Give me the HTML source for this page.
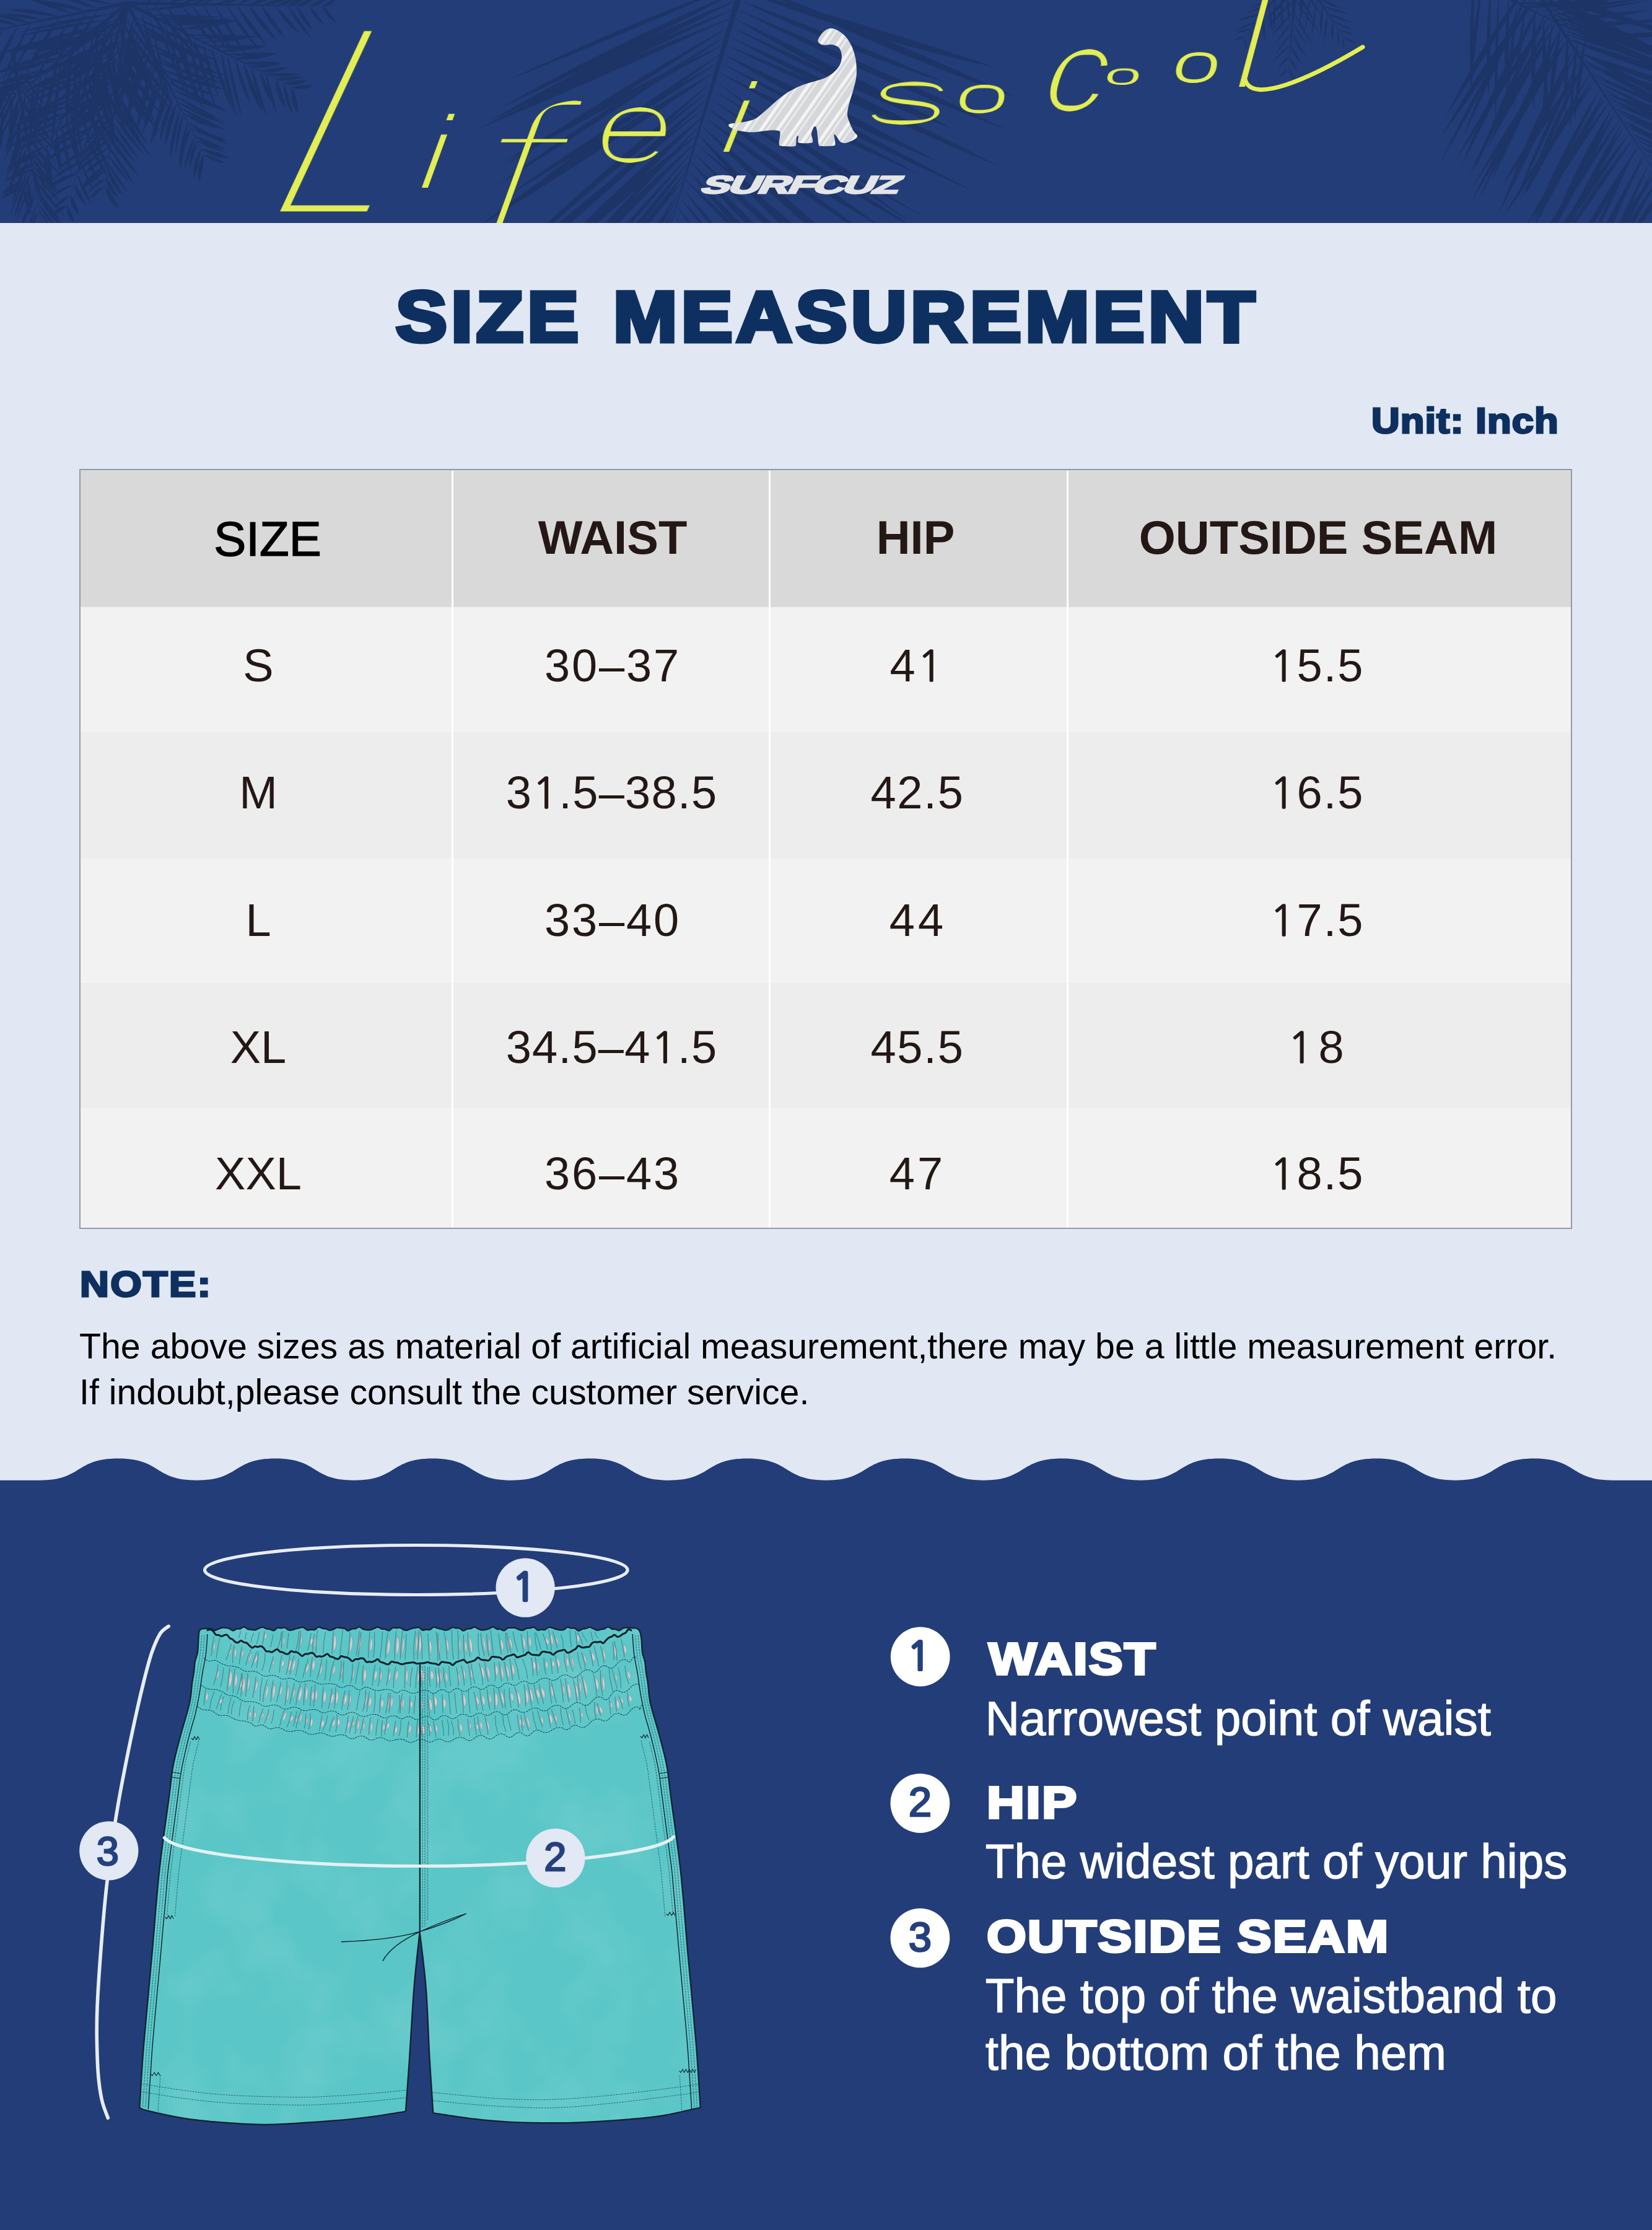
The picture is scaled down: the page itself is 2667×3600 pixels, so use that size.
<!DOCTYPE html>
<html lang="en">
<head>
<meta charset="utf-8">
<title>Size Measurement</title>
<style>
*{margin:0;padding:0;box-sizing:border-box;}
html,body{width:2667px;height:3600px;overflow:hidden;}
body{position:relative;background:#e1e8f3;font-family:"Liberation Sans",sans-serif;}
.abs{position:absolute;white-space:nowrap;line-height:1;}
#hdr{position:absolute;left:0;top:0;width:2667px;height:360px;background:#233d78;overflow:hidden;}
#hdrsvg{position:absolute;left:0;top:0;width:2667px;height:360px;}
#brand{left:1125px;top:278px;font-size:40px;font-weight:bold;color:#e4e5e7;-webkit-text-stroke:2.5px #e4e5e7;transform-origin:0 100%;transform:skewX(-28deg) scaleX(1.755);letter-spacing:-1.5px;}
#title{left:639px;top:454px;font-size:115px;font-weight:bold;color:#0e3060;transform-origin:0 0;-webkit-text-stroke:7px #0e3060;letter-spacing:6px;word-spacing:8px;transform:scaleX(1.078);}
#unit{left:2214px;top:651px;font-size:57px;font-weight:bold;color:#0e3060;transform-origin:0 0;-webkit-text-stroke:3px #0e3060;letter-spacing:1px;transform:scaleX(1.11);}
#tbl{position:absolute;left:128px;top:757px;width:2410px;height:1227px;border:2px solid #949aa1;background:#f2f2f2;}
.row{position:absolute;left:130px;width:2406px;}
.vsep{position:absolute;top:760px;width:3px;height:1222px;background:#fff;}
.th{font-size:76px;font-weight:bold;color:#231815;transform:translateX(-50%);}
.td{font-size:74px;color:#231815;transform:translateX(-50%);}
.o{font-family:"NanumGothic","Liberation Sans",sans-serif;font-size:0.935em;-webkit-text-stroke:1.3px #231815;}
#note{left:129px;top:2045px;font-size:57px;font-weight:bold;color:#0e3060;-webkit-text-stroke:3px #0e3060;transform-origin:0 0;letter-spacing:2px;transform:scaleX(1.14);}
.ntxt{left:128px;font-size:57.3px;color:#000;}
#btm{position:absolute;left:0;top:2350px;width:2667px;height:1250px;}
.lh{font-size:73px;font-weight:bold;color:#fff;-webkit-text-stroke:4px #fff;transform-origin:0 0;letter-spacing:2px;transform:scaleX(1.14);}
.lt{font-size:76.5px;color:#fff;-webkit-text-stroke:1.2px #fff;transform-origin:0 85%;transform:scaleY(1.012);}
</style>
</head>
<body>
<div id="hdr"><svg id="hdrsvg" viewBox="0 0 2667 360"><defs><filter id="e0" x="-5%" y="-5%" width="110%" height="110%"><feMorphology operator="erode" radius="14.3 12.3"/></filter><filter id="e1" x="-5%" y="-5%" width="110%" height="110%"><feMorphology operator="erode" radius="4.5 1.5"/></filter><filter id="e2" x="-5%" y="-5%" width="110%" height="110%"><feMorphology operator="erode" radius="11.3 7.1"/></filter><filter id="e3" x="-5%" y="-5%" width="110%" height="110%"><feMorphology operator="erode" radius="4.1 1.6"/></filter><filter id="e4" x="-5%" y="-5%" width="110%" height="110%"><feMorphology operator="erode" radius="4.4 1.2"/></filter><filter id="e5" x="-5%" y="-5%" width="110%" height="110%"><feMorphology operator="erode" radius="0.5 0.3"/></filter><filter id="e6" x="-5%" y="-5%" width="110%" height="110%"><feMorphology operator="erode" radius="3.8 0.6"/></filter><filter id="e7" x="-5%" y="-5%" width="110%" height="110%"><feMorphology operator="erode" radius="1.5 0.3"/></filter><filter id="e8" x="-5%" y="-5%" width="110%" height="110%"><feMorphology operator="erode" radius="4.0 2.3"/></filter><filter id="e9" x="-5%" y="-5%" width="110%" height="110%"><feMorphology operator="erode" radius="1.3 0.3"/></filter><filter id="e10" x="-5%" y="-5%" width="110%" height="110%"><feMorphology operator="erode" radius="4.0 2.6"/></filter><pattern id="stp" width="22" height="22" patternUnits="userSpaceOnUse" patternTransform="rotate(35)"><rect width="22" height="22" fill="#d5d7da"/><rect x="2" width="5" height="22" fill="#f4f4f4"/><rect x="11" width="3" height="22" fill="#ebebeb"/></pattern></defs>
<path d="M203.1 2.7L-40 210L206.9 7.3ZM185.6 21.2Q106.1 28.7 29.9 52.6Q108.3 39.4 185.6 21.2ZM185.6 21.2Q168.7 108 166 196.5Q177.9 109.1 185.6 21.2ZM173.5 31.4Q99.2 38.4 27.4 58.7Q100.8 47 173.5 31.4ZM173.5 31.4Q153.1 101.9 152.3 175.2Q165.9 103.7 173.5 31.4ZM160.7 42Q82.9 55 11.4 88.4Q87 68.3 160.7 42ZM160.7 42Q146.4 125.1 146.1 209.5Q155.5 125.9 160.7 42ZM152.2 49.2Q96.2 53.5 43 71.9Q98.1 62.6 152.2 49.2ZM152.2 49.2Q133.4 114.4 131.2 182.2Q144.2 116.1 152.2 49.2ZM138.2 60.9Q76 60.5 16.4 78.3Q77.7 72.3 138.2 60.9ZM138.2 60.9Q120.9 139.3 120.2 219.6Q131.7 140.5 138.2 60.9ZM127.2 70.1Q58.8 67.6 -7.4 85.1Q60.2 80.6 127.2 70.1ZM127.2 70.1Q114.5 138.4 116.4 207.9Q124 139.2 127.2 70.1ZM115.3 80.1Q51.9 90.9 -6.7 117.2Q55 101 115.3 80.1ZM115.3 80.1Q100.9 147.3 107.8 215.6Q114.7 148 115.3 80.1ZM100.7 92.3Q49.3 97.8 4.2 123.1Q53.4 110.7 100.7 92.3ZM100.7 92.3Q83.6 167.3 82.7 244.2Q94.1 168.5 100.7 92.3ZM92.6 99.1Q35.4 102.1 -19.1 119.9Q37.2 111.7 92.6 99.1ZM92.6 99.1Q71.1 156.8 70.6 218.3Q84.7 159.3 92.6 99.1ZM77.4 111.8Q31.4 118.3 -10.8 137.7Q33.8 126.7 77.4 111.8ZM77.4 111.8Q58.3 174.7 53.1 240.2Q67.3 176.4 77.4 111.8ZM66.5 120.9Q23.4 120.8 -15.5 139.3Q26.1 132.9 66.5 120.9ZM66.5 120.9Q49.5 178 45.9 237.4Q58.2 179.5 66.5 120.9ZM55.3 130.3Q12.8 130.8 -24 152Q16.5 144.2 55.3 130.3ZM55.3 130.3Q41.9 179.7 49.1 230.4Q55.3 180.5 55.3 130.3ZM44.5 139.3Q-2.3 140.9 -44.8 160.4Q0.4 152.5 44.5 139.3ZM44.5 139.3Q27 194.8 23.8 252.9Q36.3 196.5 44.5 139.3ZM32.4 149.5Q-3.9 147.4 -37.7 160.5Q-2.3 157.2 32.4 149.5ZM32.4 149.5Q16.2 187.4 17.6 228.7Q27.6 189.6 32.4 149.5ZM20.6 159.3Q-13.8 157.5 -45.1 172Q-11.8 168.1 20.6 159.3ZM20.6 159.3Q10.2 201.6 17.5 244.5Q21.7 202 20.6 159.3ZM5.7 171.8Q-24.4 169.4 -48.8 187Q-20.7 182.4 5.7 171.8ZM5.7 171.8Q-3.6 206.5 1.5 242Q5.7 207 5.7 171.8ZM-5.6 181.2Q-31.8 173.8 -55.4 187.3Q-30.1 187.4 -5.6 181.2ZM-5.6 181.2Q-15.5 216.6 -9.1 252.8Q-4.9 217.1 -5.6 181.2ZM-14.3 188.5Q-45.8 190.6 -72.9 206.7Q-42.9 199.7 -14.3 188.5ZM-14.3 188.5Q-26.6 217.1 -19 247.3Q-13.7 218.2 -14.3 188.5ZM-28.6 200.5Q-50.8 196.3 -68.2 210.6Q-47.7 208.3 -28.6 200.5ZM-28.6 200.5Q-41.9 223.5 -37.8 249.8Q-30.6 225.6 -28.6 200.5ZM-41.7 211.4Q-61.2 204.5 -76.7 218.1Q-58.6 217.8 -41.7 211.4ZM-41.7 211.4Q-52.4 229.8 -48.2 250.6Q-42.7 231.4 -41.7 211.4ZM202.4 3.5L40 300L207.6 6.5ZM192 28.3Q131.7 52.7 79.2 91Q136.8 61.7 192 28.3ZM192 28.3Q198.6 95.1 220.7 158.5Q208.6 92.9 192 28.3ZM183.3 43.8Q111.9 57.7 46.5 89.5Q115.8 69.3 183.3 43.8ZM183.3 43.8Q191.1 108.7 211.5 170.8Q199.3 106.9 183.3 43.8ZM178.9 51.6Q107.5 65.3 43 99.1Q112 78.4 178.9 51.6ZM178.9 51.6Q178.9 127.6 195.8 201.6Q189.9 126.3 178.9 51.6ZM169.4 68.7Q97.9 96.4 32.2 135.9Q101.7 104.1 169.4 68.7ZM169.4 68.7Q175 144.1 200.8 215Q188.1 141.2 169.4 68.7ZM162.1 81.7Q93.8 97.6 33.2 132.9Q98.8 110.2 162.1 81.7ZM162.1 81.7Q164.3 153.9 186.9 222.4Q177.6 151.5 162.1 81.7ZM154.4 95.4Q89.2 114.5 32.6 152.2Q94.8 126.5 154.4 95.4ZM154.4 95.4Q161.1 163.2 183.5 227.5Q171.3 160.9 154.4 95.4ZM148.2 106.6Q97.1 118.1 53.1 146.5Q101.7 129.1 148.2 106.6ZM148.2 106.6Q159.6 176.8 189.4 241.3Q171.5 173.1 148.2 106.6ZM141.6 118.4Q83.9 132 32.3 161Q87.9 142 141.6 118.4ZM141.6 118.4Q146.2 171.8 169.4 220.1Q158.3 168.5 141.6 118.4ZM135.5 129.2Q82 143.8 34.2 171.9Q85.7 152.6 135.5 129.2ZM135.5 129.2Q140.7 188.3 163.5 243Q152.1 185.5 135.5 129.2ZM125.4 147.4Q82.5 160.5 46.6 187.2Q87 169.4 125.4 147.4ZM125.4 147.4Q130.2 197.5 148.7 244.3Q139.1 195.3 125.4 147.4ZM118.2 160.2Q69.5 168.9 28.6 196.7Q74.5 181.4 118.2 160.2ZM118.2 160.2Q120.4 215.8 136.8 268.9Q129.6 214.2 118.2 160.2ZM112.5 170.4Q59 179.4 12.7 207.6Q63.7 191.9 112.5 170.4ZM112.5 170.4Q114.2 222.4 131.1 271.7Q124.1 220.6 112.5 170.4ZM106.3 181.5Q56.6 192.7 15.1 222.2Q61.9 204.7 106.3 181.5ZM106.3 181.5Q112.1 236.3 132.5 287.4Q121.6 233.9 106.3 181.5ZM98.9 194.7Q60.1 204.5 27.2 227.5Q64 213 98.9 194.7ZM98.9 194.7Q99.2 242.1 116.2 286.4Q110.1 240.1 98.9 194.7ZM91.2 208.4Q45.9 216.2 6.3 239.5Q49.6 226.3 91.2 208.4ZM91.2 208.4Q85.4 245.1 99.9 279.3Q98.6 243.5 91.2 208.4ZM84.9 219.8Q46.9 226.5 14.7 247.6Q50.6 235.8 84.9 219.8ZM84.9 219.8Q86.7 253.7 101.9 284.1Q95.4 251.4 84.9 219.8ZM76.3 235.1Q39.9 247.2 10.7 272.2Q44.6 255.6 76.3 235.1ZM76.3 235.1Q71.4 266.8 84.5 296Q83.1 265.2 76.3 235.1ZM69.1 248Q35.3 251.3 9.1 272.9Q40.2 263.2 69.1 248ZM69.1 248Q72.1 283.3 89 314.5Q81.1 280.6 69.1 248ZM61.8 261.1Q36.6 264.8 19.3 283.4Q41.7 274.5 61.8 261.1ZM61.8 261.1Q60.9 288.9 74.7 313.2Q70.4 286.6 61.8 261.1ZM55 273.2Q27.7 274.3 7.2 292.3Q32.1 285.3 55 273.2ZM55 273.2Q51.9 301.1 68 324Q64.4 297.9 55 273.2ZM45.9 289.5Q19 293.3 1.4 313.9Q25 304.2 45.9 289.5ZM45.9 289.5Q39.9 313.6 52 335.4Q51.7 312.1 45.9 289.5ZM38.6 302.4Q16.3 301.7 2.7 319.5Q22 313.7 38.6 302.4ZM38.6 302.4Q36.6 327.2 50.7 347.7Q47.1 324.4 38.6 302.4ZM202 4.6L170 300L208 5.4ZM202.1 29.5Q142.9 74.1 97.8 132.9Q152.1 83.3 202.1 29.5ZM202.1 29.5Q240.4 92.5 290.2 146.7Q247.9 86.8 202.1 29.5ZM200.4 43.9Q132.7 81.4 75.1 133.2Q139.3 90.6 200.4 43.9ZM200.4 43.9Q231.7 99.6 279.3 142.3Q242.3 91.1 200.4 43.9ZM198.9 56.5Q151.9 89.1 116.2 133.8Q159.2 97 198.9 56.5ZM198.9 56.5Q233.4 118.8 281.6 171.1Q242.3 112.4 198.9 56.5ZM197.9 64.6Q148.1 90.4 110.4 131.8Q156 100.6 197.9 64.6ZM197.9 64.6Q221.1 121.6 261 168.3Q232 114.9 197.9 64.6ZM196.3 78.2Q145.8 115.9 108.9 167Q154.6 124.6 196.3 78.2ZM196.3 78.2Q229.8 135.7 279.6 179.9Q240.4 127 196.3 78.2ZM194.5 93.2Q148.2 117.6 110.5 153.9Q153.8 125.3 194.5 93.2ZM194.5 93.2Q219.1 144.1 259.3 183.8Q229.3 136.8 194.5 93.2ZM192.9 107Q139.1 142 96.9 190.3Q146.6 150.6 192.9 107ZM192.9 107Q214.5 158.8 253 199.6Q225.5 151.6 192.9 107ZM191.2 121.4Q140.4 156.7 104.6 207.2Q150.1 166.6 191.2 121.4ZM191.2 121.4Q217.9 171.3 256.4 212.8Q225.6 165.9 191.2 121.4ZM189.9 132.2Q144.5 163.4 107.6 204.2Q150 169.7 189.9 132.2ZM189.9 132.2Q218.6 177.7 259.5 212.7Q226.6 170.8 189.9 132.2ZM188.2 146.7Q144 172.1 111.9 211.8Q151.9 181.4 188.2 146.7ZM188.2 146.7Q206.6 194.8 239.1 234.8Q215.8 189.5 188.2 146.7ZM186.5 160.5Q145.9 179.8 115.2 212.6Q152.4 188.6 186.5 160.5ZM186.5 160.5Q201.8 205.7 234.2 240.7Q213 199.1 186.5 160.5ZM185.1 173.1Q148.4 196 121.3 229.6Q154.6 203 185.1 173.1ZM185.1 173.1Q210.1 218.4 246.2 255.4Q217.3 213 185.1 173.1ZM183.6 185.3Q151.9 208.6 130.9 241.8Q158.8 215.1 183.6 185.3ZM183.6 185.3Q201.9 222.2 232.7 249.4Q210 215.9 183.6 185.3ZM182.2 197.3Q147.2 223.7 122 259.6Q153.6 229.9 182.2 197.3ZM182.2 197.3Q197.8 231.8 225.2 258Q205.5 226.4 182.2 197.3ZM180.7 209.7Q148.2 228 126.7 258.4Q155.3 235.9 180.7 209.7ZM180.7 209.7Q194.5 241.4 220 264.6Q202.1 235.9 180.7 209.7ZM179.1 223.2Q145.4 238 124.5 268.3Q153.8 248.1 179.1 223.2ZM179.1 223.2Q196.5 258.9 225.6 285.9Q204.1 253.3 179.1 223.2ZM177.5 236.8Q143.9 252.8 119.8 281.1Q150.1 260.8 177.5 236.8ZM177.5 236.8Q191.3 271.4 217.4 298.1Q199.3 266.3 177.5 236.8ZM175.8 251.2Q150.6 260.8 134.2 282.1Q156.3 268.5 175.8 251.2ZM175.8 251.2Q187.1 276.7 209.1 293.9Q194 271.3 175.8 251.2ZM174.4 263.2Q148.1 277.7 131 302.5Q154.1 284.4 174.4 263.2ZM174.4 263.2Q185 290.3 206.1 310.2Q191.8 285.6 174.4 263.2ZM173.3 272.4Q144.7 281.8 129.6 307.8Q153.4 292.6 173.3 272.4ZM173.3 272.4Q177.6 298.8 198.7 315.3Q188.5 292.4 173.3 272.4ZM171.5 287.1Q152 294.4 140.9 311.9Q157.5 301 171.5 287.1ZM171.5 287.1Q173.4 307.6 190.5 319.3Q183.3 301.8 171.5 287.1ZM170 300.1Q152.4 305.7 144 322.2Q158.4 312.8 170 300.1ZM170 300.1Q172 323.8 192.3 336.3Q183.9 316.5 170 300.1ZM202.3 6.4L330 250L207.7 3.6ZM216.1 26.7Q195.3 85.9 195.4 148.7Q208.8 88.2 216.1 26.7ZM216.1 26.7Q281.9 64.6 354.1 88.3Q286 55.4 216.1 26.7ZM220.4 35.2Q194.5 99.6 186.1 168.6Q205.8 102.5 220.4 35.2ZM220.4 35.2Q279.2 79.8 347.9 106.8Q285.6 68.3 220.4 35.2ZM225.2 44.5Q199.7 114.6 190 188.5Q209.9 117.1 225.2 44.5ZM225.2 44.5Q274.6 79.6 332 99.3Q279.7 69.6 225.2 44.5ZM230.2 54.4Q197.6 120.9 183 193.5Q209.3 124.9 230.2 54.4ZM230.2 54.4Q291.4 84.5 357.9 99.3Q294.9 74.5 230.2 54.4ZM237.2 68Q209.1 137.7 200.4 212.2Q221.6 140.9 237.2 68ZM237.2 68Q296.5 108.3 364.4 131.3Q302.1 97.1 237.2 68ZM243.1 79.6Q214.7 133.9 206.1 194.5Q227.5 138 243.1 79.6ZM243.1 79.6Q300.3 109.8 364 121.5Q304.5 97.8 243.1 79.6ZM248.5 90.3Q227.4 151.3 219.2 215.4Q235.8 153.3 248.5 90.3ZM248.5 90.3Q298 120.9 353 140Q301.6 113.4 248.5 90.3ZM253 99Q229.4 155.1 220 215.2Q238.6 157.7 253 99ZM253 99Q306.7 125.1 365.3 136.3Q309.9 115.4 253 99ZM259.2 111.2Q236.9 163.2 230.1 219.3Q247 165.9 259.2 111.2ZM259.2 111.2Q309.6 137.3 365.8 145.3Q313.4 125.6 259.2 111.2ZM264.9 122.5Q241.3 161.5 234.7 206.7Q252.4 165.5 264.9 122.5ZM264.9 122.5Q306.2 146.8 353.2 156Q309.9 137 264.9 122.5ZM268.6 129.7Q252.8 176.6 250.3 226.1Q261.5 178.3 268.6 129.7ZM268.6 129.7Q314.9 162.6 368.9 179.8Q320 152.4 268.6 129.7ZM275.3 142.7Q248.7 185.1 242.5 234.6Q261.9 189.8 275.3 142.7ZM275.3 142.7Q320 167.9 369.8 180.9Q323.3 159.9 275.3 142.7ZM281 153.9Q259.5 187.6 258.1 227.5Q272.5 191.6 281 153.9ZM281 153.9Q316.3 180.3 358.1 194.2Q320.5 172.2 281 153.9ZM286.2 164.1Q266.2 196.5 266.6 234.5Q279.4 200.2 286.2 164.1ZM286.2 164.1Q320.3 189.6 362 198.7Q325.2 179 286.2 164.1ZM291.3 174.2Q274.1 213.4 274.2 256.1Q285.4 215.7 291.3 174.2ZM291.3 174.2Q325.2 199.3 365.8 210.8Q329.6 190.4 291.3 174.2ZM295.9 183.2Q282.7 213.4 283.3 246.3Q291.7 215.1 295.9 183.2ZM295.9 183.2Q325.2 205.3 361.7 207.9Q329.9 192.7 295.9 183.2ZM303.2 197.6Q286.6 234.5 290.9 274.7Q300.2 236.6 303.2 197.6ZM303.2 197.6Q332 222.6 368.6 233.2Q337.1 213.2 303.2 197.6ZM308 207Q290.2 231.1 288.7 261.2Q300.8 234.9 308 207ZM308 207Q336.2 225.2 369.7 227.5Q339.7 214.8 308 207ZM314.8 220.1Q299.4 245.5 297.1 275Q307.9 248.2 314.8 220.1ZM314.8 220.1Q336.8 236.9 364.3 240.3Q340.3 228.2 314.8 220.1ZM317.9 226.3Q304.1 246.7 306.3 271.2Q314.5 249.4 317.9 226.3ZM317.9 226.3Q338.6 242.6 364.7 244.9Q342.1 233.5 317.9 226.3ZM324.7 239.7Q310.5 261.8 313.3 288Q321.5 264.4 324.7 239.7ZM324.7 239.7Q345.8 256.5 372.8 255Q349.6 244.6 324.7 239.7ZM329.3 248.7Q315.7 269.8 321.5 294.2Q328.3 271.9 329.3 248.7ZM329.3 248.7Q344.1 262.8 364.6 263Q347.8 253.8 329.3 248.7ZM203.6 7.7L470 140L206.4 2.3ZM227.2 16.3Q241.1 93.8 272.6 165.9Q252.5 90.3 227.2 16.3ZM227.2 16.3Q282.8 17.3 336.7 3.7Q281.7 7.8 227.2 16.3ZM241.6 23.6Q254.4 105.6 279.8 184.6Q262.6 103.7 241.6 23.6ZM241.6 23.6Q297.9 33.6 354.8 27.2Q298.3 22.9 241.6 23.6ZM252.5 29.2Q272.9 98.9 305.7 163.7Q280.9 95.7 252.5 29.2ZM252.5 29.2Q315 39.6 377.9 32.5Q315.3 28.2 252.5 29.2ZM265.4 35.8Q280.7 103.2 309.8 165.9Q289.6 100.1 265.4 35.8ZM265.4 35.8Q326.8 44.1 387.7 32.4Q326.5 31 265.4 35.8ZM275.3 40.8Q293.6 112.7 329 177.9Q304.7 108.3 275.3 40.8ZM275.3 40.8Q325.2 43.1 373.2 29.2Q323.9 32.5 275.3 40.8ZM289.1 47.8Q295.6 110.2 320 168Q307.2 107.2 289.1 47.8ZM289.1 47.8Q338.4 48.5 384.9 31.8Q336.6 37.2 289.1 47.8ZM304.5 55.7Q310.6 115.9 332.1 172.5Q320.6 113.6 304.5 55.7ZM304.5 55.7Q361 63.7 417.8 58.4Q361.2 55 304.5 55.7ZM313.8 60.4Q321.9 119.5 348 173.1Q333.6 115.9 313.8 60.4ZM313.8 60.4Q366.7 66.1 419.3 58.5Q366.5 57.5 313.8 60.4ZM327.3 67.3Q333.3 116.2 354 160.9Q342.9 113.5 327.3 67.3ZM327.3 67.3Q375.8 69.6 422.6 56.9Q374.7 59.9 327.3 67.3ZM339.8 73.7Q350.7 129.9 376.7 180.9Q360.5 126.5 339.8 73.7ZM339.8 73.7Q386.4 83.4 433.3 75.5Q386.6 71.9 339.8 73.7ZM356.7 82.3Q361.3 138.2 381.9 190.4Q371.8 135.8 356.7 82.3ZM356.7 82.3Q394.3 85.3 429.9 73.1Q393 75.4 356.7 82.3ZM366.8 87.4Q371.5 140.1 390.7 189.5Q380.9 137.9 366.8 87.4ZM366.8 87.4Q403.4 94.2 439.5 85.1Q403.1 83.9 366.8 87.4ZM379.6 94Q383.7 133.7 404.6 167.8Q394.6 130 379.6 94ZM379.6 94Q415.7 99.6 449.4 85.2Q414.1 86.6 379.6 94ZM393.3 100.9Q399 144.6 423.7 180.9Q411.4 139.9 393.3 100.9ZM393.3 100.9Q421.2 109.2 448.7 100.1Q421 98 393.3 100.9ZM406.1 107.4Q409.4 150.2 430.4 187.5Q420.9 146.7 406.1 107.4ZM406.1 107.4Q432.2 113 456.2 101.1Q430.8 101.7 406.1 107.4ZM420.2 114.6Q421.8 144.5 441.2 167.3Q433.4 139.9 420.2 114.6ZM420.2 114.6Q444.1 120.4 465.4 108Q442.4 108.6 420.2 114.6ZM429.6 119.4Q430.8 152.2 446.2 181.1Q440.1 149.7 429.6 119.4ZM429.6 119.4Q456.8 128 484 119.3Q456.8 116.8 429.6 119.4ZM445.7 127.6Q443.6 154.7 461.7 175Q456.7 150.3 445.7 127.6ZM445.7 127.6Q467.7 134.2 488.1 123.5Q466.6 123 445.7 127.6ZM458.3 134.1Q457.5 161.6 472.4 184.8Q467.7 158.8 458.3 134.1ZM458.3 134.1Q479.1 141.6 497.2 129Q477.4 128.5 458.3 134.1ZM471.6 140.8Q466.8 165.2 482.6 184.4Q480.2 161.8 471.6 140.8ZM471.6 140.8Q488.7 148.8 504 137.9Q487.5 136.5 471.6 140.8ZM205 8L520 10L205 2ZM232.1 5.4Q266.3 61.4 311.4 108.8Q273.4 55.8 232.1 5.4ZM232.1 5.4Q281.4 -12.5 323.1 -44.4Q276.4 -21.6 232.1 5.4ZM247.4 5.7Q281.8 59.1 327.8 102.8Q289.4 52.8 247.4 5.7ZM247.4 5.7Q282.9 -7.4 310.3 -33.6Q277.6 -15.9 247.4 5.7ZM266.4 6Q300.2 66 345.7 117.8Q307.8 60.7 266.4 6ZM266.4 6Q310.4 -0.1 348.5 -22.9Q306.5 -11 266.4 6ZM290.7 6.4Q319.2 49.6 358.3 83.4Q326.1 43.5 290.7 6.4ZM290.7 6.4Q329.4 1.4 361 -21.3Q324.8 -10.1 290.7 6.4ZM308.1 6.6Q334.4 50.5 372.4 84.9Q342 44.3 308.1 6.6ZM308.1 6.6Q350.7 -1.4 387.9 -23.8Q347.2 -10.8 308.1 6.6ZM327.1 6.9Q350.8 55.9 386.8 96.5Q358.8 50.5 327.1 6.9ZM327.1 6.9Q365.7 -7 396.3 -34.3Q360.5 -15.7 327.1 6.9ZM346.4 7.2Q367.5 54.1 400.8 93.1Q375.5 49 346.4 7.2ZM346.4 7.2Q387.9 3.3 422.8 -19.4Q383.6 -8.9 346.4 7.2ZM364.7 7.5Q386.9 50.2 421.2 84Q394.8 44.4 364.7 7.5ZM364.7 7.5Q396.3 -3.7 420 -27.4Q391.2 -11.8 364.7 7.5ZM381.7 7.8Q399.3 47.6 432.7 75.5Q409.6 39.9 381.7 7.8ZM381.7 7.8Q412 -0.6 435.7 -21.3Q407.7 -8.6 381.7 7.8ZM401.9 8.1Q417.1 43.6 448.2 66.4Q427.5 35.4 401.9 8.1ZM401.9 8.1Q432.5 5.4 453.8 -16.7Q426.5 -7.2 401.9 8.1ZM421.9 8.4Q433.5 40.6 460.8 61.2Q443.7 33.1 421.9 8.4ZM421.9 8.4Q452.2 8.9 476.1 -9.8Q448 -3.5 421.9 8.4ZM444.7 8.8Q456.9 37.5 483.6 53.8Q466.3 29.4 444.7 8.8ZM444.7 8.8Q468.9 9 487.3 -6.6Q465.1 -1.2 444.7 8.8ZM464.9 9.1Q477.4 39.5 502.4 60.9Q485.5 33.7 464.9 9.1ZM464.9 9.1Q486.3 9.1 497.4 -9.2Q479.6 -2.8 464.9 9.1ZM478.8 9.3Q484.7 34 505.2 49.1Q494.2 27.8 478.8 9.3ZM478.8 9.3Q497.4 11.5 507.2 -4.3Q491.7 -0.2 478.8 9.3ZM499.5 9.7Q505.4 29.3 523.2 39.4Q513.2 23.1 499.5 9.7ZM499.5 9.7Q517.5 10.1 528.8 -3.9Q513.1 0.7 499.5 9.7ZM521.2 10Q526 28.6 543.6 36.3Q534.3 21.5 521.2 10ZM521.2 10Q537.3 10.9 543.6 -3.9Q530.9 0.7 521.2 10ZM204.4 2.1L-60 60L205.6 7.9ZM186.4 8.9Q136 -9.1 82.6 -12.7Q134.1 0.3 186.4 8.9ZM186.4 8.9Q148.9 67 122.8 130.9Q156.3 70.8 186.4 8.9ZM159 14.5Q121.9 -6.5 79.4 -10.1Q118.4 4.8 159 14.5ZM159 14.5Q119.7 64.9 95.4 124.1Q129.5 70.6 159 14.5ZM140.5 18.4Q99.3 0.7 54.4 1.3Q96.9 12.6 140.5 18.4ZM140.5 18.4Q103.3 62.8 82.6 117Q114 69.1 140.5 18.4ZM118.2 23Q81.7 0.2 39 -4.5Q77.7 12 118.2 23ZM118.2 23Q79.7 76.9 52.9 137.4Q87.3 81.2 118.2 23ZM97 27.4Q55.7 11.9 11.6 15.2Q53.9 24.1 97 27.4ZM97 27.4Q60.5 68.4 41.1 119.8Q71.7 75.2 97 27.4ZM72.5 32.5Q39.7 20.8 4.8 22.9Q38.4 29.8 72.5 32.5ZM72.5 32.5Q40.9 71.1 20.5 116.6Q48.2 75.6 72.5 32.5ZM48.6 37.5Q18.2 21.4 -16.1 23.3Q15.6 33.1 48.6 37.5ZM48.6 37.5Q19.1 80.4 4.1 130.2Q28.5 84.9 48.6 37.5ZM29.5 41.4Q6.3 28.1 -20.3 30.7Q4.1 38.4 29.5 41.4ZM29.5 41.4Q-0.9 81 -13.8 129.2Q10.5 86.6 29.5 41.4ZM5.6 46.4Q-13.6 33.3 -36.9 35.2Q-16.2 43.1 5.6 46.4ZM5.6 46.4Q-19.3 76.5 -32.4 113.3Q-11.6 80.9 5.6 46.4ZM-15 50.7Q-36.8 35.2 -63.2 39.2Q-39.8 47.8 -15 50.7ZM-15 50.7Q-36.8 71.8 -41.2 101.8Q-25.5 77.6 -15 50.7ZM-40 55.8Q-55 43.3 -74.2 47.4Q-57.7 54.1 -40 55.8ZM-40 55.8Q-63.6 73.9 -69 103.1Q-51.7 81.2 -40 55.8ZM-60.1 60Q-74 48.5 -91.8 50.9Q-76.6 57.5 -60.1 60ZM-60.1 60Q-75.8 77.7 -78.4 101.2Q-67.2 81.5 -60.1 60ZM202.1 4.2L110 330L207.9 5.8ZM198.2 28.3Q142.4 55.5 97.4 98.2Q149.4 65.6 198.2 28.3ZM198.2 28.3Q218.2 93.7 252.8 152.8Q227.7 89.6 198.2 28.3ZM192.3 48.3Q134.4 82.2 84.7 127.1Q139.8 89.4 192.3 48.3ZM192.3 48.3Q214.6 103.5 252.1 149.6Q224.5 97.6 192.3 48.3ZM187 66.6Q128.7 93.6 82.6 138.4Q136.6 105.2 187 66.6ZM187 66.6Q209.6 120.3 244.1 167.4Q217.3 116 187 66.6ZM181.4 85.9Q127 113.9 81 154.2Q132.4 121.9 181.4 85.9ZM181.4 85.9Q201.6 142.3 234.7 192.4Q209.9 138.2 181.4 85.9ZM176.7 101.7Q137 122.5 105.7 154.8Q142.5 129.9 176.7 101.7ZM176.7 101.7Q199.9 157 238.7 202.6Q210.1 150.7 176.7 101.7ZM172.1 117.7Q121.4 137.3 78.7 170.9Q126.6 146.4 172.1 117.7ZM172.1 117.7Q191.1 169.4 221.5 215.5Q198.5 165.7 172.1 117.7ZM167.1 134.6Q127 150.3 95.4 179.6Q132.5 159.1 167.1 134.6ZM167.1 134.6Q178.5 176.7 205.4 211.1Q188.6 171.7 167.1 134.6ZM161.9 152.6Q120.4 166.7 88.4 196.5Q126.6 176.9 161.9 152.6ZM161.9 152.6Q171.7 199.7 194.7 242Q180.2 196.6 161.9 152.6ZM155.4 174.7Q115.5 188.8 83.8 216.9Q120.8 197.9 155.4 174.7ZM155.4 174.7Q167.1 218.7 196 253.8Q178.3 212.9 155.4 174.7ZM150.7 190.9Q106.6 206.5 73.1 239.2Q113.5 217.6 150.7 190.9ZM150.7 190.9Q162.7 228.3 189 257.4Q172 222.9 150.7 190.9ZM145.9 207.3Q108.7 216.4 79.4 241Q113.8 226.5 145.9 207.3ZM145.9 207.3Q156.4 248.4 180.9 282.9Q165.5 244.1 145.9 207.3ZM141.7 221.6Q102.9 232.1 73.3 259.5Q108.9 243 141.7 221.6ZM141.7 221.6Q151.8 258.5 175.6 288.4Q160.7 254 141.7 221.6ZM135.5 242.7Q108.5 252.6 91.3 275.8Q114.9 261.2 135.5 242.7ZM135.5 242.7Q142.8 272.8 161.8 297.3Q150.5 269.1 135.5 242.7ZM130.2 260.9Q104 267.9 85.8 288Q109.2 276.4 130.2 260.9ZM130.2 260.9Q134.9 287.3 151.7 308.3Q142.8 283.8 130.2 260.9ZM124.6 279.9Q96.3 282.5 76.9 303.3Q102.1 294.4 124.6 279.9ZM124.6 279.9Q129.6 308.1 147.8 330.2Q138.2 304.1 124.6 279.9ZM119.8 296.4Q94.5 303.7 76.2 322.6Q99 311.2 119.8 296.4ZM119.8 296.4Q121.9 318 139.2 331.1Q131.8 312.5 119.8 296.4ZM114.3 315.3Q95.4 320.2 86 337.2Q101.5 328.1 114.3 315.3ZM114.3 315.3Q111.5 334.9 127.7 346.1Q123.8 329.5 114.3 315.3ZM109.4 332.1Q91.1 333.3 82.5 349.5Q97.4 343 109.4 332.1ZM109.4 332.1Q104.6 349 119.3 358.9Q117.3 344.4 109.4 332.1ZM17 80.5L70 380L23 79.5ZM23.8 102.8Q-4.4 152 -17 207.3Q5.7 156 23.8 102.8ZM23.8 102.8Q45.4 141.1 76.5 172.2Q51.5 136.5 23.8 102.8ZM26.6 119.7Q0.9 155.6 -10.7 198.2Q10.1 160 26.6 119.7ZM26.6 119.7Q49.6 160.8 81.6 195.4Q55.4 156.6 26.6 119.7ZM28.8 132.6Q3.3 167.8 -9.3 209.3Q11.6 171.9 28.8 132.6ZM28.8 132.6Q54 178.6 87.6 218.9Q59.5 174.9 28.8 132.6ZM30.2 141.1Q5.1 178.4 -5.3 222.1Q14.6 182.6 30.2 141.1ZM30.2 141.1Q58.2 181.1 94.3 214Q63.4 176.5 30.2 141.1ZM33 157.7Q8.6 196.1 -6.3 239Q14.7 199.1 33 157.7ZM33 157.7Q51 196.9 81.2 227.7Q58.9 191.4 33 157.7ZM34.6 167.9Q14.7 205.6 8.5 247.7Q23.6 208.5 34.6 167.9ZM34.6 167.9Q56.7 204.8 89.6 232.3Q63.8 198.7 34.6 167.9ZM37.5 185.2Q16.6 220.7 6.6 260.7Q23.7 223.6 37.5 185.2ZM37.5 185.2Q63.4 222.8 98 252.6Q69.1 217.7 37.5 185.2ZM39.5 196.8Q18.2 243.6 9.3 294.2Q26.2 246.1 39.5 196.8ZM39.5 196.8Q61.9 234.1 92.4 265.2Q67.1 230.1 39.5 196.8ZM41.6 209.7Q21.2 245 15.3 285.3Q30.7 248.3 41.6 209.7ZM41.6 209.7Q57 247 85 276Q65.2 241.6 41.6 209.7ZM43.5 220.8Q24 260 15 302.9Q30.8 262.4 43.5 220.8ZM43.5 220.8Q71.2 259.6 106.5 291.8Q76.1 255.3 43.5 220.8ZM45.9 235.2Q22.1 268.7 13.3 308.7Q31.8 273 45.9 235.2ZM45.9 235.2Q62.7 268.4 90.4 293.3Q69.8 263 45.9 235.2ZM48.2 249.4Q26.3 287.4 18.8 330.7Q35.7 290.8 48.2 249.4ZM48.2 249.4Q66.5 285.9 97.1 312.8Q74.5 279.7 48.2 249.4ZM50.5 262.8Q28.4 303.6 16.6 348.5Q35.1 306.3 50.5 262.8ZM50.5 262.8Q67.7 293.9 95.6 315.9Q74.7 288 50.5 262.8ZM52.2 273.3Q29.7 310.9 21.6 354Q39.1 314.5 52.2 273.3ZM52.2 273.3Q70 304.3 97.9 326.8Q76.6 298.7 52.2 273.3ZM54.4 286.3Q35 320.5 25 358.5Q41.1 323 54.4 286.3ZM54.4 286.3Q74.1 322.3 104.7 349.6Q81.2 316.7 54.4 286.3ZM57.2 303.4Q41.9 334.1 36.1 368Q48.1 336.1 57.2 303.4ZM57.2 303.4Q74.1 336.1 101.3 360.9Q80.8 331 57.2 303.4ZM58.8 312.9Q38.1 339 32.1 371.7Q47.7 343.3 58.8 312.9ZM58.8 312.9Q75.6 346.6 104.5 370.9Q83.4 340.5 58.8 312.9ZM61 325.9Q45.6 357.4 39.8 392Q51.8 359.4 61 325.9ZM61 325.9Q77.2 360.1 104.3 386.5Q84.3 355 61 325.9ZM63.2 339.2Q44.1 365.2 39.5 397.1Q53.5 369 63.2 339.2ZM63.2 339.2Q76.9 369.2 99.7 393.1Q82.8 365.2 63.2 339.2ZM65.8 354.9Q45.2 387.4 33.9 424.2Q51.3 390.2 65.8 354.9ZM65.8 354.9Q80.8 384.6 104.9 407.5Q86.7 380.2 65.8 354.9ZM68.3 369.7Q51.1 400.4 48.5 435.5Q60.6 403.3 68.3 369.7ZM68.3 369.7Q83.3 395.7 107.9 412.9Q89.5 390 68.3 369.7ZM70.2 381.5Q53.6 408.9 52.4 441Q63.6 411.9 70.2 381.5ZM70.2 381.5Q83 411.3 105.7 434.4Q89.4 407 70.2 381.5ZM1200 -30Q1006.3 41.1 819.8 129.5Q1011.4 53.2 1200 -30ZM1200 -30Q1415.9 78.4 1643.9 158.1Q1424.4 58.3 1200 -30ZM1195.7 -15.5Q993.8 67.8 804.1 176.1Q1002.4 85.3 1195.7 -15.5ZM1195.7 -15.5Q1396.2 63.2 1606.7 108.6Q1403.2 39.9 1195.7 -15.5ZM1191.4 -1Q984 80.8 792.2 194.7Q994.9 103.2 1191.4 -1ZM1191.4 -1Q1353.2 77.5 1524.3 132.6Q1359.7 61.1 1191.4 -1ZM1187.1 13.4Q1001.8 85.1 826.5 178.8Q1008.8 100.5 1187.1 13.4ZM1187.1 13.4Q1401.6 125 1627.9 210.5Q1409.8 106.7 1187.1 13.4ZM1182.8 27.9Q969.6 107.6 766.5 210.2Q976.7 123.7 1182.8 27.9ZM1182.8 27.9Q1355.4 133.7 1542.5 210.8Q1365.5 113.7 1182.8 27.9ZM1178.4 42.4Q989.1 147 811 269.7Q997 159.7 1178.4 42.4ZM1178.4 42.4Q1339.2 130.7 1509.3 199.5Q1345.7 117 1178.4 42.4ZM1174.1 56.9Q981.2 168.7 801.2 300.3Q990.2 182.5 1174.1 56.9ZM1174.1 56.9Q1386.8 176.2 1612.5 268.3Q1396 157.2 1174.1 56.9ZM1169.8 71.4Q986.8 154.7 815.5 260Q995 170.1 1169.8 71.4ZM1169.8 71.4Q1365.3 169.3 1570.5 244.6Q1372.1 153.5 1169.8 71.4ZM1165.5 85.9Q1008.5 183.9 863.8 299.4Q1017.1 196.1 1165.5 85.9ZM1165.5 85.9Q1331.1 188.3 1512.2 259.9Q1341.9 166.7 1165.5 85.9ZM1161.2 100.3Q984.8 197.2 821.5 314.8Q994 211.7 1161.2 100.3ZM1161.2 100.3Q1361.8 216 1573.4 309.9Q1369.5 200.8 1161.2 100.3ZM1156.9 114.8Q953.9 226.8 769.7 367.6Q967 247 1156.9 114.8ZM1156.9 114.8Q1315.6 209.7 1485.7 282.3Q1323.5 194.1 1156.9 114.8ZM1152.6 129.3Q964.7 278.8 792.5 446.1Q975.7 291.3 1152.6 129.3ZM1152.6 129.3Q1306.1 252.1 1470.7 359.4Q1313.9 241.3 1152.6 129.3ZM1148.3 143.8Q994.5 258.9 852.7 388.5Q1002.9 269 1148.3 143.8ZM1148.3 143.8Q1314.3 254.6 1489.9 349.5Q1321 243.5 1148.3 143.8ZM1144 158.3Q983.8 282.9 842.1 428.2Q996.8 297.4 1144 158.3ZM1144 158.3Q1311 277.2 1490.1 377Q1319.4 263.8 1144 158.3ZM1139.7 172.8Q964.9 301.2 803.2 445.7Q974.1 312.4 1139.7 172.8ZM1139.7 172.8Q1273.9 283.2 1425.5 368.2Q1286 265.4 1139.7 172.8ZM1135.3 187.2Q982.6 309.7 853 456.5Q998.8 326.7 1135.3 187.2ZM1135.3 187.2Q1267.3 297.9 1413.5 389Q1277.3 284.2 1135.3 187.2ZM1131 201.7Q1008.4 319.3 899.3 449.5Q1017.9 328.1 1131 201.7ZM1131 201.7Q1261.3 338.2 1413.2 450.2Q1276.4 321.1 1131 201.7ZM1126.7 216.2Q977 325.1 847 456.8Q990.8 341 1126.7 216.2ZM1126.7 216.2Q1229.5 343.1 1354.1 448.7Q1244.8 328.2 1126.7 216.2ZM1122.4 230.7Q951.9 378.3 805.2 549.7Q968.6 394.9 1122.4 230.7ZM1122.4 230.7Q1259.5 359.2 1409.2 472.8Q1268.3 348.8 1122.4 230.7ZM1118.1 245.2Q988.8 379.1 873.8 525.5Q998.8 387.8 1118.1 245.2ZM1118.1 245.2Q1230 368.1 1360.3 471.4Q1242.9 354.3 1118.1 245.2ZM1113.8 259.7Q999.5 384.4 905.1 524.7Q1013.4 395.3 1113.8 259.7ZM1113.8 259.7Q1210.9 379.3 1329.4 477.8Q1225.8 364.5 1113.8 259.7ZM1109.5 274.1Q1003.3 397.6 916.6 535.4Q1016.9 407.6 1109.5 274.1ZM1109.5 274.1Q1203.3 392.5 1317.6 491.1Q1217.7 378.7 1109.5 274.1ZM1105.2 288.6Q973 424.1 864.3 579.1Q989.4 437.8 1105.2 288.6ZM1105.2 288.6Q1215 410 1341.7 513.6Q1226.8 397.6 1105.2 288.6ZM1100.9 303.1Q999.2 448.4 913.7 603.7Q1010.5 455.4 1100.9 303.1ZM1100.9 303.1Q1202.7 443.5 1324.6 566.7Q1216.8 431.5 1100.9 303.1ZM1096.6 317.6Q998.3 451.2 915.5 594.8Q1009.1 458.2 1096.6 317.6ZM1096.6 317.6Q1208.3 470.6 1341.6 605.2Q1223.4 457.8 1096.6 317.6ZM1092.2 332.1Q985.9 487.4 897.9 653.7Q998.7 495.1 1092.2 332.1ZM1092.2 332.1Q1182.6 477.1 1300.7 600.5Q1202 462 1092.2 332.1ZM1087.9 346.6Q980.9 492.2 903.9 655.7Q1001.9 504.7 1087.9 346.6ZM1087.9 346.6Q1168.4 495 1273.3 627.4Q1185.5 483.8 1087.9 346.6ZM1083.6 361Q989.9 501.1 916.2 652.6Q1003.9 509.1 1083.6 361ZM1083.6 361Q1167.2 521.4 1272 668.9Q1182 512.4 1083.6 361ZM1079.3 375.5Q991.2 490.2 920.2 616.1Q1003.2 498.1 1079.3 375.5ZM1079.3 375.5Q1148.9 503.8 1239 618.5Q1163.2 494.3 1079.3 375.5ZM1075 390Q985.7 509 914.4 639.6Q998.3 517.1 1075 390ZM1075 390Q1159.3 531.2 1261.9 659.8Q1172.1 522.3 1075 390ZM1195 -30L1075 390L1205 -30ZM2092 -50.3L2080 110L2098 -49.7ZM2093.9 -38.8Q2068.5 -16.7 2049.1 11Q2072.4 -13.1 2093.9 -38.8ZM2093.9 -38.8Q2109 -5 2132.4 23.7Q2114.4 -8.3 2093.9 -38.8ZM2092 -18.4Q2063.6 4.1 2043.9 34.6Q2069.3 9.3 2092 -18.4ZM2092 -18.4Q2102.6 11.5 2123.1 35.8Q2109 7.9 2092 -18.4ZM2090.4 -1Q2064.5 18.3 2046.1 44.9Q2069.4 23 2090.4 -1ZM2090.4 -1Q2107.3 28.1 2130.4 52.5Q2111.3 25 2090.4 -1ZM2088.6 18.4Q2066.9 36.2 2051.9 60Q2071.2 40.1 2088.6 18.4ZM2088.6 18.4Q2098.9 46.7 2117.6 70.2Q2104.4 43.6 2088.6 18.4ZM2087 35.6Q2069.5 51.1 2058.1 71.5Q2073.5 54.3 2087 35.6ZM2087 35.6Q2095.3 55.9 2109.8 72.4Q2099.3 53.4 2087 35.6ZM2085.3 53.4Q2068.6 69.2 2058 89.5Q2072.6 72.1 2085.3 53.4ZM2085.3 53.4Q2093.3 75.7 2109.3 93.1Q2098.5 72.6 2085.3 53.4ZM2083.6 72.1Q2067 83.2 2055.5 99.5Q2070.3 86.6 2083.6 72.1ZM2083.6 72.1Q2087.4 90.4 2100.9 103.5Q2093.6 87 2083.6 72.1ZM2081.8 91.3Q2069 96.8 2064 109.7Q2074 101.6 2081.8 91.3ZM2081.8 91.3Q2083.7 105.6 2095 114.5Q2089.8 102.1 2081.8 91.3ZM2079.9 111.1Q2069.4 115.1 2065.3 125.6Q2073.6 119.3 2079.9 111.1ZM2079.9 111.1Q2081.2 123 2091.7 128.7Q2087.2 118.9 2079.9 111.1ZM2092.5 -48.3L2170 60L2097.5 -51.7ZM2101.5 -40.5Q2095.6 -6.7 2100.1 27.3Q2102.3 -6.6 2101.5 -40.5ZM2101.5 -40.5Q2127.3 -25 2156.1 -16Q2129.2 -29.2 2101.5 -40.5ZM2109.8 -28.4Q2099.3 8.6 2096.5 46.8Q2104.3 9.4 2109.8 -28.4ZM2109.8 -28.4Q2136.8 -13.7 2167.1 -8.7Q2138.9 -20 2109.8 -28.4ZM2118.1 -16.1Q2108.4 18.3 2105.8 53.9Q2113 19.1 2118.1 -16.1ZM2118.1 -16.1Q2141 -4.6 2166.1 0Q2142.5 -9.1 2118.1 -16.1ZM2126.6 -3.7Q2118.4 27.9 2117.9 60.5Q2123.3 28.5 2126.6 -3.7ZM2126.6 -3.7Q2145.3 9.5 2167.9 13.8Q2147.8 3.7 2126.6 -3.7ZM2135.5 9.4Q2128.4 32.2 2132.4 55.9Q2135.6 32.7 2135.5 9.4ZM2135.5 9.4Q2154.7 20 2176.6 22Q2156.4 14.4 2135.5 9.4ZM2144.3 22.3Q2136.4 46 2137.4 70.9Q2142.2 46.8 2144.3 22.3ZM2144.3 22.3Q2161.7 34 2182.6 35.4Q2164 27.3 2144.3 22.3ZM2152.2 33.9Q2145.9 49.6 2151.3 65.6Q2153.5 49.8 2152.2 33.9ZM2152.2 33.9Q2166.2 44.3 2183.3 47.7Q2168.2 39.8 2152.2 33.9ZM2161.1 47Q2157.3 61.6 2161.1 76.3Q2162.3 61.6 2161.1 47ZM2161.1 47Q2171.5 55 2184.6 55.3Q2173.3 50 2161.1 47ZM2170 60Q2165.7 69.5 2168.7 79.5Q2170.4 69.8 2170 60ZM2170 60Q2178.2 68.7 2190.2 69.9Q2180.6 63.8 2170 60ZM2092.6 -51.8L2010 60L2097.4 -48.2ZM2088.9 -42.1Q2055.8 -35.6 2027.2 -17.9Q2058.7 -28.3 2088.9 -42.1ZM2088.9 -42.1Q2083.4 -2.6 2087.3 37.2Q2089.5 -2.4 2088.9 -42.1ZM2078.6 -28.7Q2048.7 -24.9 2020.6 -14.1Q2049.8 -20.4 2078.6 -28.7ZM2078.6 -28.7Q2075.1 6.5 2081.8 41.2Q2081.7 6.2 2078.6 -28.7ZM2069 -16.4Q2036.6 -15.3 2006.8 -2.4Q2038.3 -7.7 2069 -16.4ZM2069 -16.4Q2064.6 17.9 2070.8 51.9Q2071.5 17.7 2069 -16.4ZM2059.4 -4Q2036.2 1.9 2015.9 14.7Q2038.1 6.4 2059.4 -4ZM2059.4 -4Q2052.9 22.6 2057 49.7Q2059.8 22.9 2059.4 -4ZM2049.4 9Q2029.5 11.1 2012 20.9Q2031.1 16.1 2049.4 9ZM2049.4 9Q2047.2 30.5 2054.6 50.7Q2053.5 29.7 2049.4 9ZM2038.8 22.7Q2017.2 23.6 1997.8 33.2Q2018.7 29.3 2038.8 22.7ZM2038.8 22.7Q2035.6 46.5 2043.2 69.3Q2042.6 45.9 2038.8 22.7ZM2028.7 35.8Q2009.6 38.8 1993.9 50.1Q2011.8 44.2 2028.7 35.8ZM2028.7 35.8Q2024.2 52.3 2031.2 68Q2031.7 51.8 2028.7 35.8ZM2020.6 46.3Q2007.4 45.6 1996.9 53.5Q2009.1 51.2 2020.6 46.3ZM2020.6 46.3Q2015.2 61.6 2020.9 76.8Q2022.4 61.5 2020.6 46.3ZM2010.2 59.7Q2000 58.3 1992 65Q2001.5 63.5 2010.2 59.7ZM2010.2 59.7Q2007.7 70.1 2012.5 79.7Q2012.5 69.6 2010.2 59.7ZM2467.5 -28.4L2700 320L2472.5 -31.6ZM2469.2 -31.2Q2390.4 72.5 2333.5 189.6Q2404.6 81.3 2469.2 -31.2ZM2469.2 -31.2Q2606.4 32 2750.4 77.5Q2610.8 20.5 2469.2 -31.2ZM2473.5 -24.6Q2407.6 94.1 2361.7 221.9Q2420.6 100 2473.5 -24.6ZM2473.5 -24.6Q2594.6 50.8 2725.6 107Q2601.1 38.3 2473.5 -24.6ZM2479.9 -15Q2392.9 121.4 2322.7 267.1Q2403.8 127.5 2479.9 -15ZM2479.9 -15Q2603.4 36.6 2734.6 63.5Q2608.4 20.6 2479.9 -15ZM2484.2 -8.3Q2394.5 97 2328.2 218.4Q2409.7 107.5 2484.2 -8.3ZM2484.2 -8.3Q2602.7 61 2731.8 107.4Q2609.6 46.1 2484.2 -8.3ZM2489.9 0.3Q2412.5 127.1 2360.4 266.2Q2429 135.1 2489.9 0.3ZM2489.9 0.3Q2601 60.9 2720.5 102.1Q2606.5 48.3 2489.9 0.3ZM2499 14.1Q2429.3 141.5 2379 277.7Q2441.9 147.3 2499 14.1ZM2499 14.1Q2613.6 68.6 2736.4 100.4Q2618.9 53.8 2499 14.1ZM2503.9 21.6Q2416 136.1 2347.3 263Q2428.4 144.2 2503.9 21.6ZM2503.9 21.6Q2612.6 77.4 2730.8 108.1Q2618.8 61.1 2503.9 21.6ZM2508.3 28.3Q2430.4 151 2371.6 284Q2442.9 157.7 2508.3 28.3ZM2508.3 28.3Q2619.5 88.7 2740.2 127.1Q2625.7 74.4 2508.3 28.3ZM2513.1 35.6Q2446 132.1 2400.2 240.4Q2459.9 139.8 2513.1 35.6ZM2513.1 35.6Q2639.2 100.3 2774.4 142.9Q2645.1 85.9 2513.1 35.6ZM2520.1 46.3Q2451.1 163.1 2408.2 291.8Q2468.1 170.8 2520.1 46.3ZM2520.1 46.3Q2637.4 99.8 2762.9 129.1Q2642.7 84 2520.1 46.3ZM2525.7 54.8Q2447.7 184.8 2385.9 323.2Q2458.3 190.3 2525.7 54.8ZM2525.7 54.8Q2653.2 101.1 2785.9 128.5Q2656.6 88.8 2525.7 54.8ZM2530.4 61.9Q2440.9 187.6 2374.5 326.8Q2455.9 196.4 2530.4 61.9ZM2530.4 61.9Q2654.7 117.7 2788 146.2Q2660.5 100 2530.4 61.9ZM2532.2 64.6Q2445.3 179.6 2375 305.5Q2456.1 186.7 2532.2 64.6ZM2532.2 64.6Q2654.9 116.7 2784.9 146.7Q2659.6 102.4 2532.2 64.6ZM2541.2 78.4Q2477.5 185.9 2435.9 303.7Q2491.9 192.6 2541.2 78.4ZM2541.2 78.4Q2656.7 151.4 2784 201Q2664.4 136.2 2541.2 78.4ZM2544.8 83.9Q2469.6 209.6 2418.8 347Q2485.5 217.2 2544.8 83.9ZM2544.8 83.9Q2668.8 139.8 2801.5 169.5Q2674.5 122.7 2544.8 83.9ZM2551.6 94.2Q2490.8 205.8 2446.4 324.9Q2501.5 210.6 2551.6 94.2ZM2551.6 94.2Q2657.3 163.9 2775.5 209.5Q2665.4 148.2 2551.6 94.2ZM2557.1 102.6Q2499 206.3 2460.4 318.9Q2511.7 212 2557.1 102.6ZM2557.1 102.6Q2683.2 156.8 2817.6 184.7Q2688.6 139.7 2557.1 102.6ZM2559 105.4Q2481.3 196.7 2423.7 301.9Q2494.3 205.7 2559 105.4ZM2559 105.4Q2690.8 156.1 2828.3 188.6Q2694.5 144.2 2559 105.4ZM2567.1 117.7Q2506.2 210.5 2463.8 313.1Q2518.2 216.9 2567.1 117.7ZM2567.1 117.7Q2687.1 181.9 2815.4 227.8Q2692.4 170 2567.1 117.7ZM2572.1 125.4Q2504.1 220.7 2451.7 325.5Q2514.3 226.8 2572.1 125.4ZM2572.1 125.4Q2690.3 176.6 2814.5 210.6Q2694.2 165.4 2572.1 125.4ZM2575.2 130.1Q2491.6 235.3 2425.5 352.3Q2503 243 2575.2 130.1ZM2575.2 130.1Q2705.1 205.5 2845.8 258.2Q2712.1 190.8 2575.2 130.1ZM2583.4 142.6Q2518.9 245.2 2473.7 357.7Q2531.5 251.6 2583.4 142.6ZM2583.4 142.6Q2698.9 210.9 2824 259.6Q2705.1 198.1 2583.4 142.6ZM2589.1 151.3Q2520.6 257.7 2472.4 374.6Q2533.8 264.6 2589.1 151.3ZM2589.1 151.3Q2702.2 197.7 2822.3 219.9Q2706.8 182 2589.1 151.3ZM2591.8 155.4Q2521.2 251.8 2474.3 361.8Q2536.6 260.6 2591.8 155.4ZM2591.8 155.4Q2715.9 224.9 2850.1 271.7Q2722.5 210.1 2591.8 155.4ZM2598.2 165Q2519.4 259.2 2462 367.8Q2533.3 268.6 2598.2 165ZM2598.2 165Q2711.8 216.8 2831.5 252.2Q2715.8 206.1 2598.2 165ZM2603.3 172.9Q2536.3 277.8 2494.7 395Q2552.8 285.8 2603.3 172.9ZM2603.3 172.9Q2720.3 239 2847.4 282.4Q2726.9 224.3 2603.3 172.9ZM2607.9 179.8Q2544.3 271.7 2505.1 376.3Q2560.2 280 2607.9 179.8ZM2607.9 179.8Q2714.6 240.4 2830.1 281.9Q2720.3 228 2607.9 179.8ZM2615.9 192Q2536.6 293.1 2476.9 406.9Q2549.3 301.4 2615.9 192ZM2615.9 192Q2737.2 262.5 2866.5 316.9Q2742.4 252.1 2615.9 192ZM2619.1 197Q2547.4 309.4 2497.8 433.1Q2561.8 316.7 2619.1 197ZM2619.1 197Q2741.5 265.7 2875.1 308.6Q2748.8 248.9 2619.1 197ZM2622.9 202.7Q2552.1 303 2499.5 414Q2564 310 2622.9 202.7ZM2622.9 202.7Q2726.1 258 2838.6 290.3Q2732.1 243.1 2622.9 202.7ZM2631 214.9Q2539.6 323.3 2471.9 447.8Q2555 333.8 2631 214.9ZM2631 214.9Q2750.7 279 2880.1 320.4Q2757 264.3 2631 214.9ZM2636.7 223.7Q2567.7 303.9 2517.1 396.7Q2579.7 312.1 2636.7 223.7ZM2636.7 223.7Q2750.8 282.4 2872.3 323.1Q2755.7 270.7 2636.7 223.7ZM2643.4 233.9Q2585.6 334.9 2544.6 443.9Q2596.5 340.1 2643.4 233.9ZM2643.4 233.9Q2759.9 292.9 2883.3 335.5Q2764.4 282.2 2643.4 233.9ZM2645 236.3Q2570.2 337.9 2517.7 452.6Q2584.6 346.4 2645 236.3ZM2645 236.3Q2760.2 303.2 2886.2 347Q2767.2 288.1 2645 236.3ZM2653.1 248.7Q2596.9 353.5 2556.2 465.2Q2607 358 2653.1 248.7ZM2653.1 248.7Q2779.4 302.6 2913.9 330.3Q2784.8 285.5 2653.1 248.7ZM2655 251.6Q2590 354.1 2545.6 467.2Q2603.4 361 2655 251.6ZM2655 251.6Q2767.4 318.6 2888.9 367.4Q2773.3 306.7 2655 251.6ZM2662.6 263.1Q2604.6 369.9 2563.3 484.2Q2615.5 374.7 2662.6 263.1ZM2662.6 263.1Q2764.5 325.5 2875.5 369.8Q2770.4 313.7 2662.6 263.1ZM2669.2 273.1Q2611.7 372.6 2570 479.7Q2621.9 377.6 2669.2 273.1ZM2669.2 273.1Q2769.3 332.9 2879.4 371.5Q2775.8 319.1 2669.2 273.1ZM2673.1 279Q2606 357.9 2561.5 451.4Q2620.7 367.4 2673.1 279ZM2673.1 279Q2789.3 348.1 2915.7 396.5Q2795.9 334.6 2673.1 279ZM2678.2 286.8Q2600.8 392.3 2547.9 512.1Q2616.7 401.6 2678.2 286.8ZM2678.2 286.8Q2765.6 333.5 2860.2 363Q2770.3 322.3 2678.2 286.8ZM2685.4 297.8Q2612.9 398.3 2556.3 508.5Q2623.2 404.6 2685.4 297.8ZM2685.4 297.8Q2773.9 342.1 2869.1 369.5Q2778.2 331.1 2685.4 297.8ZM2688.4 302.3Q2609.3 394.4 2552.5 501.7Q2623.8 404.3 2688.4 302.3ZM2688.4 302.3Q2784.4 361.5 2888.4 404.8Q2789.6 351.2 2688.4 302.3ZM2693.6 310.2Q2631.1 424.7 2587.7 547.6Q2643.5 430.2 2693.6 310.2ZM2693.6 310.2Q2800.2 367.7 2917.1 399.7Q2806.8 351.1 2693.6 310.2ZM2702.1 323.1Q2634 415.3 2590 521.2Q2649.6 424.2 2702.1 323.1ZM2702.1 323.1Q2795.1 376.5 2898.3 406.2Q2801.7 361.1 2702.1 323.1ZM2378.7 -27.3L2560 60L2381.3 -32.7ZM2379.1 -30.4Q2368.2 62.4 2376 155.5Q2380.4 62.6 2379.1 -30.4ZM2379.1 -30.4Q2472.4 -24 2565.1 -36.1Q2472 -36 2379.1 -30.4ZM2392.2 -23.9Q2373.4 55.2 2373.7 136.5Q2385.8 56.7 2392.2 -23.9ZM2392.2 -23.9Q2483.3 -22.1 2573.3 -36.6Q2482.6 -32.7 2392.2 -23.9ZM2406.2 -16.9Q2395.3 69.8 2403.1 156.7Q2407.5 70 2406.2 -16.9ZM2406.2 -16.9Q2505.8 -7.8 2605.2 -17.6Q2505.7 -20.1 2406.2 -16.9ZM2419.8 -10.1Q2410.1 93.8 2414.5 198.2Q2419.3 94.1 2419.8 -10.1ZM2419.8 -10.1Q2524.2 -9.6 2627.1 -26.6Q2523.2 -21 2419.8 -10.1ZM2435.7 -2.1Q2424.2 81.2 2432.8 164.9Q2437.3 81.4 2435.7 -2.1ZM2435.7 -2.1Q2520.1 0.7 2603 -15.3Q2519.2 -11.6 2435.7 -2.1ZM2449.3 4.6Q2434.5 78.9 2434.6 154.5Q2444.2 79.8 2449.3 4.6ZM2449.3 4.6Q2530.7 15 2611.9 3.3Q2530.6 0.7 2449.3 4.6ZM2462.8 11.4Q2444.4 93.4 2442.8 177.4Q2455.3 94.7 2462.8 11.4ZM2462.8 11.4Q2538.6 16 2612 -3.2Q2537.1 0.5 2462.8 11.4ZM2478.1 19.1Q2466.3 98.7 2476.7 178.6Q2480.7 98.8 2478.1 19.1ZM2478.1 19.1Q2566.8 15.7 2653.7 -2.2Q2565.7 6.3 2478.1 19.1ZM2491.7 25.9Q2486.3 112.7 2500.3 198.6Q2499 112.1 2491.7 25.9ZM2491.7 25.9Q2578.7 20 2663.5 -0Q2577.3 10.8 2491.7 25.9ZM2506.2 33.1Q2491 115.7 2489.8 199.8Q2500.1 116.6 2506.2 33.1ZM2506.2 33.1Q2586.4 34.7 2664.4 15.7Q2584.9 21.3 2506.2 33.1ZM2520.2 40.1Q2500.2 107.5 2501.9 177.8Q2514.3 109.4 2520.2 40.1ZM2520.2 40.1Q2607.1 44.9 2693.2 31.9Q2606.6 33.3 2520.2 40.1ZM2532.1 46.1Q2521.3 115.2 2527.7 184.8Q2532.5 115.5 2532.1 46.1ZM2532.1 46.1Q2600.8 46.2 2667.8 31.2Q2599.7 36.4 2532.1 46.1ZM2547.4 53.7Q2533.6 131.3 2534.9 210.2Q2543.4 132.1 2547.4 53.7ZM2547.4 53.7Q2619.8 66.9 2692.7 56.6Q2620.1 51.6 2547.4 53.7ZM2560.2 60.1Q2542.1 127.3 2541.9 197Q2553.7 128.9 2560.2 60.1ZM2560.2 60.1Q2644.7 62 2728.1 48.8Q2644 52.1 2560.2 60.1Z" fill="#1d3365" opacity="0.92"/>
<g font-family="Liberation Sans, sans-serif" fill="#e3ee52" role="img" aria-label="Life is so cool"><title>Life is so cool</title><text filter="url(#e0)" transform="translate(405 354) skewX(-25) scale(0.8 1.0)" font-size="460">L</text><text filter="url(#e1)" transform="translate(655 305) skewX(-20) scale(1.6 1.0)" font-size="170">i</text><text filter="url(#e2)" transform="translate(725 386) skewX(-20) scale(1.7 1.0)" font-size="320">f</text><text filter="url(#e3)" transform="translate(948 263) skewX(-12) scale(1.4 1.0)" font-size="171">e</text> <text filter="url(#e4)" transform="translate(1140 246) skewX(-22) scale(1.8 1.0)" font-size="160">i</text><text filter="url(#e5)" transform="translate(1275 195) skewX(-10) scale(1.0 1.0)" font-size="90">s</text> <text filter="url(#e6)" transform="translate(1386 201) skewX(-15) scale(2.2 1.0)" font-size="131">s</text><text filter="url(#e7)" transform="translate(1536 182) skewX(-10) scale(1.95 1.0)" font-size="84">o</text> <text filter="url(#e8)" transform="translate(1670 180) skewX(-18) scale(1.1 1.0)" font-size="190">c</text><text filter="url(#e5)" transform="translate(1780 137) skewX(-10) scale(2.2 1.0)" font-size="50">o</text><text filter="url(#e9)" transform="translate(1886 133) skewX(-12) scale(1.6 1.0)" font-size="91">o</text><text filter="url(#e10)" transform="translate(1982 143) skewX(-15) scale(1.0 1.0)" font-size="200">l</text></g>
<path d="M2010 128C2020 168 2110 130 2200 76" fill="none" stroke="#e3ee52" stroke-width="7" stroke-linecap="round"/>
<path d="M1340.1 45.7C1336.1 46.1 1332.4 48.6 1329.2 51.6C1326 54.6 1322 60.6 1320.9 63.6C1319.8 66.6 1321.1 68.2 1322.7 69.7C1324.2 71.2 1326.7 72.3 1330.3 72.7C1333.9 73.2 1340.5 71.6 1344.4 72.3C1348.4 73 1351.9 74.6 1354.3 77.1C1356.6 79.6 1358.1 83.4 1358.6 87.6C1359.1 91.7 1358.7 97.3 1357.1 101.7C1355.5 106.1 1352.5 110.3 1348.8 114.1C1345.1 118 1340.1 121.8 1334.6 124.6C1329.2 127.4 1322.8 129 1316.1 131.1C1309.4 133.3 1301.6 134.8 1294.3 137.7C1287.1 140.6 1279.1 144.6 1272.5 148.6C1266 152.6 1260.9 156.9 1255.1 161.6C1249.3 166.4 1243.8 171.8 1237.7 176.9C1231.5 182 1225 188.7 1218.1 192.2C1211.2 195.6 1203.1 196.2 1196.3 197.6C1189.4 199 1179.8 199 1177.1 200.4C1174.4 201.9 1177.1 204.5 1179.9 206.3C1182.8 208.1 1188.1 210.1 1194.1 211.3C1200.1 212.5 1207.9 213.7 1215.9 213.5C1223.9 213.4 1235.2 210.8 1242 210.5C1248.9 210.1 1253.9 210.4 1256.8 211.3C1259.8 212.3 1259.3 212.6 1259.5 216.1C1259.6 219.6 1257.4 229.2 1257.7 232.5C1258.1 235.7 1257.5 235.1 1261.6 235.7C1265.7 236.4 1278.4 236.7 1282.3 236.2C1286.3 235.6 1284.6 234.9 1285.2 232.5C1285.8 230 1285.4 223.7 1286 221.6C1286.7 219.4 1288.5 218.1 1288.9 219.4C1289.2 220.7 1287.7 227.3 1288.2 229.2C1288.8 231.1 1288.6 230.7 1292.2 230.9C1295.7 231.2 1306.2 231.4 1309.6 230.7C1312.9 230.1 1312.1 229.5 1312.2 227C1312.3 224.6 1309.7 219.8 1310 216.1C1310.3 212.5 1312.6 206.7 1313.9 205.2C1315.3 203.8 1317 202.9 1318.3 207.4C1319.6 211.9 1320.3 227.7 1321.6 232.5C1322.8 237.2 1321.9 235.3 1325.9 235.7C1329.9 236.2 1341.8 236 1345.5 235.3C1349.3 234.6 1348.2 234.4 1348.4 231.4C1348.6 228.4 1346.1 218.8 1346.6 217.2C1347.1 215.6 1349.8 219.6 1351.4 221.6C1353.1 223.5 1354.3 227.2 1356.4 228.8C1358.5 230.3 1360.8 231.2 1364.1 230.9C1367.3 230.6 1372.7 228.8 1376 227C1379.4 225.2 1383.7 222.6 1384.1 220C1384.5 217.5 1380.1 215 1378.2 211.8C1376.3 208.6 1374.5 205.2 1372.8 200.9C1371.1 196.5 1368.3 191.1 1368 185.6C1367.6 180.2 1369.1 174.7 1370.6 168.2C1372.1 161.6 1375.1 154 1377.1 146.4C1379.1 138.8 1381.9 130.8 1382.6 122.4C1383.3 114.1 1382.8 104.3 1381.5 96.3C1380.2 88.3 1377.7 80.7 1375 74.5C1372.2 68.3 1368.8 63.4 1365.2 59.2C1361.5 55 1357.3 51.7 1353.2 49.4C1349 47.2 1344.1 45.4 1340.1 45.7Z" fill="url(#stp)"/>
</svg><div id="brand" class="abs">SURFCUZ</div></div>

<div id="title" class="abs">SIZE MEASUREMENT</div>
<div id="unit" class="abs">Unit: Inch</div>

<div id="tbl"></div>
<div class="row" style="top:759px;height:221px;background:#d9d9d9"></div>
<div class="row" style="top:980px;height:202px;background:#f2f2f2"></div>
<div class="row" style="top:1182px;height:204px;background:#ededed"></div>
<div class="row" style="top:1386px;height:201px;background:#f2f2f2"></div>
<div class="row" style="top:1587px;height:202px;background:#ededed"></div>
<div class="row" style="top:1789px;height:193px;background:#f2f2f2"></div>
<div class="vsep" style="left:729px"></div>
<div class="vsep" style="left:1241px"></div>
<div class="vsep" style="left:1722px"></div>

<div class="abs th" style="left:432px;top:831px;font-weight:normal;color:#000;font-size:78px;-webkit-text-stroke:1.5px #000">SIZE</div>
<div class="abs th" style="left:989px;top:830px">WAIST</div>
<div class="abs th" style="left:1478px;top:830px">HIP</div>
<div class="abs th" style="left:2128px;top:830px">OUTSIDE SEAM</div>

<div class="abs td" style="left:417px;top:1038px">S</div>
<div class="abs td" style="left:989px;top:1038px;letter-spacing:2.8px">30–37</div>
<div class="abs td" style="left:1481px;top:1038px;letter-spacing:3px">4<span class="o">1</span></div>
<div class="abs td" style="left:2126px;top:1038px;letter-spacing:2px"><span class="o">1</span>5.5</div>

<div class="abs td" style="left:417px;top:1243px">M</div>
<div class="abs td" style="left:987.5px;top:1243px;letter-spacing:1.3px">3<span class="o">1</span>.5–38.5</div>
<div class="abs td" style="left:1481px;top:1243px;letter-spacing:1.8px">42.5</div>
<div class="abs td" style="left:2126px;top:1243px;letter-spacing:2px"><span class="o">1</span>6.5</div>

<div class="abs td" style="left:417px;top:1449px">L</div>
<div class="abs td" style="left:989px;top:1449px;letter-spacing:2.8px">33–40</div>
<div class="abs td" style="left:1482px;top:1449px;letter-spacing:5px">44</div>
<div class="abs td" style="left:2126px;top:1449px;letter-spacing:2px"><span class="o">1</span>7.5</div>

<div class="abs td" style="left:417px;top:1654px">XL</div>
<div class="abs td" style="left:987.5px;top:1654px;letter-spacing:1.3px">34.5–4<span class="o">1</span>.5</div>
<div class="abs td" style="left:1481px;top:1654px;letter-spacing:1.8px">45.5</div>
<div class="abs td" style="left:2128px;top:1654px;letter-spacing:8px"><span class="o">1</span>8</div>

<div class="abs td" style="left:417px;top:1858px">XXL</div>
<div class="abs td" style="left:989px;top:1858px;letter-spacing:2.8px">36–43</div>
<div class="abs td" style="left:1481px;top:1858px;letter-spacing:4px">47</div>
<div class="abs td" style="left:2126px;top:1858px;letter-spacing:2px"><span class="o">1</span>8.5</div>

<div id="note" class="abs">NOTE:</div>
<div class="abs ntxt" style="top:2145px">The above sizes as material of artificial measurement,there may be a little measurement error.</div>
<div class="abs ntxt" style="top:2219px">If indoubt,please consult the customer service.</div>

<svg id="btm" viewBox="0 2350 2667 1250">
<path d="M0 3600V2389.7H63.7C133.6 2389.7 120.8 2354.5 190.7 2354.5C260.6 2354.5 247.8 2389.7 317.7 2389.7C387.6 2389.7 374.8 2354.5 444.7 2354.5C514.5 2354.5 501.9 2389.7 571.7 2389.7C641.6 2389.7 628.9 2354.5 698.7 2354.5C768.6 2354.5 755.9 2389.7 825.7 2389.7C895.6 2389.7 882.9 2354.5 952.7 2354.5C1022.6 2354.5 1009.9 2389.7 1079.7 2389.7C1149.5 2389.7 1136.9 2354.5 1206.7 2354.5C1276.5 2354.5 1263.9 2389.7 1333.7 2389.7C1403.5 2389.7 1390.9 2354.5 1460.7 2354.5C1530.5 2354.5 1517.9 2389.7 1587.7 2389.7C1657.5 2389.7 1644.9 2354.5 1714.7 2354.5C1784.5 2354.5 1771.9 2389.7 1841.7 2389.7C1911.5 2389.7 1898.9 2354.5 1968.7 2354.5C2038.5 2354.5 2025.8 2389.7 2095.7 2389.7C2165.5 2389.7 2152.8 2354.5 2222.7 2354.5C2292.5 2354.5 2279.8 2389.7 2349.7 2389.7C2419.5 2389.7 2406.8 2354.5 2476.7 2354.5C2546.5 2354.5 2533.8 2389.7 2603.7 2389.7H2667V3600Z" fill="#233d78"/>
<defs><clipPath id="sc"><path d="M225.4 3402.5C226.5 3385.4 228.9 3340.4 232.2 3300C235.5 3259.6 240.8 3206.7 245 3160C249.2 3113.3 252.6 3063.3 257.3 3020C262 2976.7 269.4 2928.3 273.1 2900C276.8 2871.7 276.6 2866.7 279.7 2850C282.8 2833.3 287.6 2816.7 292 2800C296.4 2783.3 302.9 2764 306 2750C309.1 2736 309.1 2724.3 310.3 2716C311.5 2707.7 312.2 2705.7 313 2700C313.8 2694.3 314 2687.3 315 2682C316 2676.7 318.1 2673.7 319 2668C319.9 2662.3 320 2653.2 320.3 2648C320.6 2642.8 320.9 2638.8 321 2637Q321.5 2630 327 2629.5L334 2628.8C335 2628.9 338 2628.7 340 2629.3C342 2629.9 344 2632.2 346 2632.3C348 2632.4 350 2630.8 352 2630.1C354 2629.4 356 2628.2 358 2627.9C360 2627.5 362 2627.7 364 2627.9C366 2628.1 368 2628.2 370 2629C372 2629.8 374 2632.4 376 2632.5C378 2632.7 380 2630.2 382 2629.7C384 2629.2 386 2629.9 388 2629.4C390 2628.8 392 2626.2 394 2626.3C396 2626.5 398 2629.4 400 2630.1C402 2630.9 404 2630.6 406 2630.9C408 2631.1 410 2631.8 412 2631.4C414 2631 416 2629.4 418 2628.7C420 2627.9 422 2626.8 424 2626.9C426 2627.1 428 2628.9 430 2629.5C432 2630.1 434 2629.8 436 2630.3C438 2630.8 440 2632.8 442 2632.4C444 2632 446 2628.7 448 2628C450 2627.3 452 2628.4 454 2628.4C456 2628.3 458 2627 460 2627.6C462 2628.1 464 2630.9 466 2631.5C468 2632.2 470 2631.6 472 2631.3C474 2630.9 476 2630 478 2629.5C480 2628.9 482 2628.2 484 2627.8C486 2627.5 488 2626.8 490 2627.4C492 2628 494 2630.9 496 2631.5C498 2632 500 2630.7 502 2630.6C504 2630.6 506 2631.7 508 2631.1C510 2630.4 512 2627 514 2626.6C516 2626.2 518 2628.1 520 2628.6C522 2629.1 524 2629 526 2629.5C528 2630.1 530 2631.9 532 2632C534 2632.2 536 2631.2 538 2630.4C540 2629.7 542 2627.9 544 2627.5C546 2627.2 548 2628 550 2628.2C552 2628.4 554 2628.1 556 2628.8C558 2629.5 560 2632.5 562 2632.7C564 2632.8 566 2630.2 568 2629.7C570 2629.1 572 2629.8 574 2629.3C576 2628.8 578 2626.4 580 2626.5C582 2626.6 584 2629.1 586 2629.9C588 2630.7 590 2631 592 2631.2C594 2631.4 596 2631.4 598 2631.1C600 2630.7 602 2629.7 604 2629C606 2628.3 608 2626.5 610 2626.6C612 2626.8 614 2629.1 616 2629.7C618 2630.3 620 2629.7 622 2630.2C624 2630.6 626 2632.8 628 2632.5C630 2632.1 632 2628.7 634 2628C636 2627.3 638 2628.2 640 2628.2C642 2628.2 644 2627.3 646 2627.8C648 2628.3 650 2630.6 652 2631.2C654 2631.9 656 2631.9 658 2631.6C660 2631.2 662 2629.7 664 2629.2C666 2628.6 668 2628.4 670 2628.1C672 2627.8 674 2626.6 676 2627.2C678 2627.7 680 2631 682 2631.6C684 2632.2 686 2630.7 688 2630.6C690 2630.5 692 2631.6 694 2631C696 2630.4 698 2627.2 700 2626.8C702 2626.3 704 2627.9 706 2628.4C708 2628.9 710 2629.3 712 2629.8C714 2630.4 716 2631.5 718 2631.7C720 2631.8 722 2631.5 724 2630.7C726 2630 728 2627.6 730 2627.3C732 2626.9 734 2628.2 736 2628.4C738 2628.6 740 2627.9 742 2628.7C744 2629.4 746 2632.5 748 2632.7C750 2632.9 752 2630.3 754 2629.7C756 2629.1 758 2629.6 760 2629.1C762 2628.6 764 2626.6 766 2626.7C768 2626.8 770 2628.8 772 2629.6C774 2630.4 776 2631.3 778 2631.5C780 2631.7 782 2631.1 784 2630.8C786 2630.4 788 2630 790 2629.3C792 2628.6 794 2626.3 796 2626.4C798 2626.5 800 2629.3 802 2629.9C804 2630.5 806 2629.7 808 2630.1C810 2630.6 812 2632.7 814 2632.4C816 2632.1 818 2628.9 820 2628.2C822 2627.4 824 2628 826 2628C828 2628 830 2627.6 832 2628.1C834 2628.6 836 2630.3 838 2630.9C840 2631.6 842 2632.2 844 2631.9C846 2631.6 848 2629.5 850 2628.9C852 2628.3 854 2628.6 856 2628.3C858 2628 860 2626.5 862 2627C864 2627.6 866 2631.1 868 2631.7C870 2632.3 872 2630.8 874 2630.6C876 2630.5 878 2631.5 880 2630.9C882 2630.2 884 2627.4 886 2627C888 2626.5 890 2627.6 892 2628.1C894 2628.6 896 2629.6 898 2630.1C900 2630.7 902 2631.2 904 2631.4C906 2631.5 908 2631.7 910 2631C912 2630.3 914 2627.4 916 2627C918 2626.6 920 2628.3 922 2628.6C924 2628.8 926 2627.9 928 2628.6C930 2629.3 932 2632.5 934 2632.7C936 2632.9 938 2630.5 940 2629.9C942 2629.2 944 2629.4 946 2628.9C948 2628.4 950 2626.9 952 2627C954 2627.1 956 2628.5 958 2629.3C960 2630.1 962 2631.6 964 2631.8C966 2632 968 2630.9 970 2630.5C972 2630.1 974 2630.2 976 2629.5C978 2628.8 980 2626.2 982 2626.3C984 2626.3 986 2629.3 988 2629.9C990 2630.6 992 2629.8 994 2630.2C996 2630.6 998 2632.6 1000 2632.3C1002 2632 1004 2629.2 1006 2628.4C1008 2627.6 1011 2627.8 1012 2627.7L1026 2628.5Q1032 2629 1034 2637C1034.3 2638.8 1035.2 2642.8 1035.7 2648C1036.2 2653.2 1036.1 2662.3 1037 2668C1037.9 2673.7 1040 2676.7 1041 2682C1042 2687.3 1042.2 2694.3 1043 2700C1043.8 2705.7 1044.5 2707.7 1045.7 2716C1046.9 2724.3 1047 2736 1050 2750C1053 2764 1059.6 2783.3 1064 2800C1068.4 2816.7 1073.1 2833.3 1076.3 2850C1079.5 2866.7 1079.2 2871.7 1082.9 2900C1086.6 2928.3 1094 2976.7 1098.7 3020C1103.4 3063.3 1106.8 3113.3 1111 3160C1115.2 3206.7 1120.5 3259.6 1123.8 3300C1127.1 3340.4 1129.5 3385.4 1130.6 3402.5C1118.9 3404 1093.5 3411.6 1069.5 3415.3C1045.5 3419 1010.5 3421.8 984.7 3423.7C959 3425.6 942.5 3426.7 915 3427C887.5 3427.3 845.8 3426.7 820 3425.5C794.2 3424.3 780.1 3422.4 760 3420C739.9 3417.6 709.4 3412.5 699.3 3411C698.3 3395.8 695.3 3353.5 693.4 3320C691.5 3286.5 690.4 3243.6 687.8 3210C685.2 3176.4 679.3 3133.8 677.6 3118.6C676 3133.8 671 3176.4 668.3 3210C665.6 3243.6 663.4 3286.9 661.2 3320C659 3353.1 656 3393.8 654.9 3408.5C645.8 3409.9 619.1 3414.5 600 3417C580.9 3419.5 567.1 3421.3 540 3423.4C512.9 3425.5 465.7 3429.1 437.3 3429.7C408.9 3430.3 392.1 3428.7 369.5 3427.1C346.9 3425.5 323.4 3423.6 301.7 3420.3C279.9 3417.1 251.7 3410.6 239 3407.6C226.3 3404.6 227.7 3403.3 225.4 3402.5Z"/></clipPath><filter id="tx" x="0" y="0" width="100%" height="100%"><feTurbulence type="fractalNoise" baseFrequency="0.011 0.009" numOctaves="3" seed="4"/><feColorMatrix values="0 0 0 0 1 0 0 0 0 1 0 0 0 0 1 0.9 0 0 0 -0.32"/></filter></defs>
<path d="M225.4 3402.5C226.5 3385.4 228.9 3340.4 232.2 3300C235.5 3259.6 240.8 3206.7 245 3160C249.2 3113.3 252.6 3063.3 257.3 3020C262 2976.7 269.4 2928.3 273.1 2900C276.8 2871.7 276.6 2866.7 279.7 2850C282.8 2833.3 287.6 2816.7 292 2800C296.4 2783.3 302.9 2764 306 2750C309.1 2736 309.1 2724.3 310.3 2716C311.5 2707.7 312.2 2705.7 313 2700C313.8 2694.3 314 2687.3 315 2682C316 2676.7 318.1 2673.7 319 2668C319.9 2662.3 320 2653.2 320.3 2648C320.6 2642.8 320.9 2638.8 321 2637Q321.5 2630 327 2629.5L334 2628.8C335 2628.9 338 2628.7 340 2629.3C342 2629.9 344 2632.2 346 2632.3C348 2632.4 350 2630.8 352 2630.1C354 2629.4 356 2628.2 358 2627.9C360 2627.5 362 2627.7 364 2627.9C366 2628.1 368 2628.2 370 2629C372 2629.8 374 2632.4 376 2632.5C378 2632.7 380 2630.2 382 2629.7C384 2629.2 386 2629.9 388 2629.4C390 2628.8 392 2626.2 394 2626.3C396 2626.5 398 2629.4 400 2630.1C402 2630.9 404 2630.6 406 2630.9C408 2631.1 410 2631.8 412 2631.4C414 2631 416 2629.4 418 2628.7C420 2627.9 422 2626.8 424 2626.9C426 2627.1 428 2628.9 430 2629.5C432 2630.1 434 2629.8 436 2630.3C438 2630.8 440 2632.8 442 2632.4C444 2632 446 2628.7 448 2628C450 2627.3 452 2628.4 454 2628.4C456 2628.3 458 2627 460 2627.6C462 2628.1 464 2630.9 466 2631.5C468 2632.2 470 2631.6 472 2631.3C474 2630.9 476 2630 478 2629.5C480 2628.9 482 2628.2 484 2627.8C486 2627.5 488 2626.8 490 2627.4C492 2628 494 2630.9 496 2631.5C498 2632 500 2630.7 502 2630.6C504 2630.6 506 2631.7 508 2631.1C510 2630.4 512 2627 514 2626.6C516 2626.2 518 2628.1 520 2628.6C522 2629.1 524 2629 526 2629.5C528 2630.1 530 2631.9 532 2632C534 2632.2 536 2631.2 538 2630.4C540 2629.7 542 2627.9 544 2627.5C546 2627.2 548 2628 550 2628.2C552 2628.4 554 2628.1 556 2628.8C558 2629.5 560 2632.5 562 2632.7C564 2632.8 566 2630.2 568 2629.7C570 2629.1 572 2629.8 574 2629.3C576 2628.8 578 2626.4 580 2626.5C582 2626.6 584 2629.1 586 2629.9C588 2630.7 590 2631 592 2631.2C594 2631.4 596 2631.4 598 2631.1C600 2630.7 602 2629.7 604 2629C606 2628.3 608 2626.5 610 2626.6C612 2626.8 614 2629.1 616 2629.7C618 2630.3 620 2629.7 622 2630.2C624 2630.6 626 2632.8 628 2632.5C630 2632.1 632 2628.7 634 2628C636 2627.3 638 2628.2 640 2628.2C642 2628.2 644 2627.3 646 2627.8C648 2628.3 650 2630.6 652 2631.2C654 2631.9 656 2631.9 658 2631.6C660 2631.2 662 2629.7 664 2629.2C666 2628.6 668 2628.4 670 2628.1C672 2627.8 674 2626.6 676 2627.2C678 2627.7 680 2631 682 2631.6C684 2632.2 686 2630.7 688 2630.6C690 2630.5 692 2631.6 694 2631C696 2630.4 698 2627.2 700 2626.8C702 2626.3 704 2627.9 706 2628.4C708 2628.9 710 2629.3 712 2629.8C714 2630.4 716 2631.5 718 2631.7C720 2631.8 722 2631.5 724 2630.7C726 2630 728 2627.6 730 2627.3C732 2626.9 734 2628.2 736 2628.4C738 2628.6 740 2627.9 742 2628.7C744 2629.4 746 2632.5 748 2632.7C750 2632.9 752 2630.3 754 2629.7C756 2629.1 758 2629.6 760 2629.1C762 2628.6 764 2626.6 766 2626.7C768 2626.8 770 2628.8 772 2629.6C774 2630.4 776 2631.3 778 2631.5C780 2631.7 782 2631.1 784 2630.8C786 2630.4 788 2630 790 2629.3C792 2628.6 794 2626.3 796 2626.4C798 2626.5 800 2629.3 802 2629.9C804 2630.5 806 2629.7 808 2630.1C810 2630.6 812 2632.7 814 2632.4C816 2632.1 818 2628.9 820 2628.2C822 2627.4 824 2628 826 2628C828 2628 830 2627.6 832 2628.1C834 2628.6 836 2630.3 838 2630.9C840 2631.6 842 2632.2 844 2631.9C846 2631.6 848 2629.5 850 2628.9C852 2628.3 854 2628.6 856 2628.3C858 2628 860 2626.5 862 2627C864 2627.6 866 2631.1 868 2631.7C870 2632.3 872 2630.8 874 2630.6C876 2630.5 878 2631.5 880 2630.9C882 2630.2 884 2627.4 886 2627C888 2626.5 890 2627.6 892 2628.1C894 2628.6 896 2629.6 898 2630.1C900 2630.7 902 2631.2 904 2631.4C906 2631.5 908 2631.7 910 2631C912 2630.3 914 2627.4 916 2627C918 2626.6 920 2628.3 922 2628.6C924 2628.8 926 2627.9 928 2628.6C930 2629.3 932 2632.5 934 2632.7C936 2632.9 938 2630.5 940 2629.9C942 2629.2 944 2629.4 946 2628.9C948 2628.4 950 2626.9 952 2627C954 2627.1 956 2628.5 958 2629.3C960 2630.1 962 2631.6 964 2631.8C966 2632 968 2630.9 970 2630.5C972 2630.1 974 2630.2 976 2629.5C978 2628.8 980 2626.2 982 2626.3C984 2626.3 986 2629.3 988 2629.9C990 2630.6 992 2629.8 994 2630.2C996 2630.6 998 2632.6 1000 2632.3C1002 2632 1004 2629.2 1006 2628.4C1008 2627.6 1011 2627.8 1012 2627.7L1026 2628.5Q1032 2629 1034 2637C1034.3 2638.8 1035.2 2642.8 1035.7 2648C1036.2 2653.2 1036.1 2662.3 1037 2668C1037.9 2673.7 1040 2676.7 1041 2682C1042 2687.3 1042.2 2694.3 1043 2700C1043.8 2705.7 1044.5 2707.7 1045.7 2716C1046.9 2724.3 1047 2736 1050 2750C1053 2764 1059.6 2783.3 1064 2800C1068.4 2816.7 1073.1 2833.3 1076.3 2850C1079.5 2866.7 1079.2 2871.7 1082.9 2900C1086.6 2928.3 1094 2976.7 1098.7 3020C1103.4 3063.3 1106.8 3113.3 1111 3160C1115.2 3206.7 1120.5 3259.6 1123.8 3300C1127.1 3340.4 1129.5 3385.4 1130.6 3402.5C1118.9 3404 1093.5 3411.6 1069.5 3415.3C1045.5 3419 1010.5 3421.8 984.7 3423.7C959 3425.6 942.5 3426.7 915 3427C887.5 3427.3 845.8 3426.7 820 3425.5C794.2 3424.3 780.1 3422.4 760 3420C739.9 3417.6 709.4 3412.5 699.3 3411C698.3 3395.8 695.3 3353.5 693.4 3320C691.5 3286.5 690.4 3243.6 687.8 3210C685.2 3176.4 679.3 3133.8 677.6 3118.6C676 3133.8 671 3176.4 668.3 3210C665.6 3243.6 663.4 3286.9 661.2 3320C659 3353.1 656 3393.8 654.9 3408.5C645.8 3409.9 619.1 3414.5 600 3417C580.9 3419.5 567.1 3421.3 540 3423.4C512.9 3425.5 465.7 3429.1 437.3 3429.7C408.9 3430.3 392.1 3428.7 369.5 3427.1C346.9 3425.5 323.4 3423.6 301.7 3420.3C279.9 3417.1 251.7 3410.6 239 3407.6C226.3 3404.6 227.7 3403.3 225.4 3402.5Z" fill="#5ac6c7"/>
<rect x="215" y="2615" width="925" height="825" filter="url(#tx)" clip-path="url(#sc)" opacity="0.2"/>
<path d="M225.4 3402.5C226.5 3385.4 228.9 3340.4 232.2 3300C235.5 3259.6 240.8 3206.7 245 3160C249.2 3113.3 252.6 3063.3 257.3 3020C262 2976.7 269.4 2928.3 273.1 2900C276.8 2871.7 276.6 2866.7 279.7 2850C282.8 2833.3 287.6 2816.7 292 2800C296.4 2783.3 302.9 2764 306 2750C309.1 2736 309.1 2724.3 310.3 2716C311.5 2707.7 312.2 2705.7 313 2700C313.8 2694.3 314 2687.3 315 2682C316 2676.7 318.1 2673.7 319 2668C319.9 2662.3 320 2653.2 320.3 2648C320.6 2642.8 320.9 2638.8 321 2637Q321.5 2630 327 2629.5L334 2628.8C335 2628.9 338 2628.7 340 2629.3C342 2629.9 344 2632.2 346 2632.3C348 2632.4 350 2630.8 352 2630.1C354 2629.4 356 2628.2 358 2627.9C360 2627.5 362 2627.7 364 2627.9C366 2628.1 368 2628.2 370 2629C372 2629.8 374 2632.4 376 2632.5C378 2632.7 380 2630.2 382 2629.7C384 2629.2 386 2629.9 388 2629.4C390 2628.8 392 2626.2 394 2626.3C396 2626.5 398 2629.4 400 2630.1C402 2630.9 404 2630.6 406 2630.9C408 2631.1 410 2631.8 412 2631.4C414 2631 416 2629.4 418 2628.7C420 2627.9 422 2626.8 424 2626.9C426 2627.1 428 2628.9 430 2629.5C432 2630.1 434 2629.8 436 2630.3C438 2630.8 440 2632.8 442 2632.4C444 2632 446 2628.7 448 2628C450 2627.3 452 2628.4 454 2628.4C456 2628.3 458 2627 460 2627.6C462 2628.1 464 2630.9 466 2631.5C468 2632.2 470 2631.6 472 2631.3C474 2630.9 476 2630 478 2629.5C480 2628.9 482 2628.2 484 2627.8C486 2627.5 488 2626.8 490 2627.4C492 2628 494 2630.9 496 2631.5C498 2632 500 2630.7 502 2630.6C504 2630.6 506 2631.7 508 2631.1C510 2630.4 512 2627 514 2626.6C516 2626.2 518 2628.1 520 2628.6C522 2629.1 524 2629 526 2629.5C528 2630.1 530 2631.9 532 2632C534 2632.2 536 2631.2 538 2630.4C540 2629.7 542 2627.9 544 2627.5C546 2627.2 548 2628 550 2628.2C552 2628.4 554 2628.1 556 2628.8C558 2629.5 560 2632.5 562 2632.7C564 2632.8 566 2630.2 568 2629.7C570 2629.1 572 2629.8 574 2629.3C576 2628.8 578 2626.4 580 2626.5C582 2626.6 584 2629.1 586 2629.9C588 2630.7 590 2631 592 2631.2C594 2631.4 596 2631.4 598 2631.1C600 2630.7 602 2629.7 604 2629C606 2628.3 608 2626.5 610 2626.6C612 2626.8 614 2629.1 616 2629.7C618 2630.3 620 2629.7 622 2630.2C624 2630.6 626 2632.8 628 2632.5C630 2632.1 632 2628.7 634 2628C636 2627.3 638 2628.2 640 2628.2C642 2628.2 644 2627.3 646 2627.8C648 2628.3 650 2630.6 652 2631.2C654 2631.9 656 2631.9 658 2631.6C660 2631.2 662 2629.7 664 2629.2C666 2628.6 668 2628.4 670 2628.1C672 2627.8 674 2626.6 676 2627.2C678 2627.7 680 2631 682 2631.6C684 2632.2 686 2630.7 688 2630.6C690 2630.5 692 2631.6 694 2631C696 2630.4 698 2627.2 700 2626.8C702 2626.3 704 2627.9 706 2628.4C708 2628.9 710 2629.3 712 2629.8C714 2630.4 716 2631.5 718 2631.7C720 2631.8 722 2631.5 724 2630.7C726 2630 728 2627.6 730 2627.3C732 2626.9 734 2628.2 736 2628.4C738 2628.6 740 2627.9 742 2628.7C744 2629.4 746 2632.5 748 2632.7C750 2632.9 752 2630.3 754 2629.7C756 2629.1 758 2629.6 760 2629.1C762 2628.6 764 2626.6 766 2626.7C768 2626.8 770 2628.8 772 2629.6C774 2630.4 776 2631.3 778 2631.5C780 2631.7 782 2631.1 784 2630.8C786 2630.4 788 2630 790 2629.3C792 2628.6 794 2626.3 796 2626.4C798 2626.5 800 2629.3 802 2629.9C804 2630.5 806 2629.7 808 2630.1C810 2630.6 812 2632.7 814 2632.4C816 2632.1 818 2628.9 820 2628.2C822 2627.4 824 2628 826 2628C828 2628 830 2627.6 832 2628.1C834 2628.6 836 2630.3 838 2630.9C840 2631.6 842 2632.2 844 2631.9C846 2631.6 848 2629.5 850 2628.9C852 2628.3 854 2628.6 856 2628.3C858 2628 860 2626.5 862 2627C864 2627.6 866 2631.1 868 2631.7C870 2632.3 872 2630.8 874 2630.6C876 2630.5 878 2631.5 880 2630.9C882 2630.2 884 2627.4 886 2627C888 2626.5 890 2627.6 892 2628.1C894 2628.6 896 2629.6 898 2630.1C900 2630.7 902 2631.2 904 2631.4C906 2631.5 908 2631.7 910 2631C912 2630.3 914 2627.4 916 2627C918 2626.6 920 2628.3 922 2628.6C924 2628.8 926 2627.9 928 2628.6C930 2629.3 932 2632.5 934 2632.7C936 2632.9 938 2630.5 940 2629.9C942 2629.2 944 2629.4 946 2628.9C948 2628.4 950 2626.9 952 2627C954 2627.1 956 2628.5 958 2629.3C960 2630.1 962 2631.6 964 2631.8C966 2632 968 2630.9 970 2630.5C972 2630.1 974 2630.2 976 2629.5C978 2628.8 980 2626.2 982 2626.3C984 2626.3 986 2629.3 988 2629.9C990 2630.6 992 2629.8 994 2630.2C996 2630.6 998 2632.6 1000 2632.3C1002 2632 1004 2629.2 1006 2628.4C1008 2627.6 1011 2627.8 1012 2627.7L1026 2628.5Q1032 2629 1034 2637C1034.3 2638.8 1035.2 2642.8 1035.7 2648C1036.2 2653.2 1036.1 2662.3 1037 2668C1037.9 2673.7 1040 2676.7 1041 2682C1042 2687.3 1042.2 2694.3 1043 2700C1043.8 2705.7 1044.5 2707.7 1045.7 2716C1046.9 2724.3 1047 2736 1050 2750C1053 2764 1059.6 2783.3 1064 2800C1068.4 2816.7 1073.1 2833.3 1076.3 2850C1079.5 2866.7 1079.2 2871.7 1082.9 2900C1086.6 2928.3 1094 2976.7 1098.7 3020C1103.4 3063.3 1106.8 3113.3 1111 3160C1115.2 3206.7 1120.5 3259.6 1123.8 3300C1127.1 3340.4 1129.5 3385.4 1130.6 3402.5C1118.9 3404 1093.5 3411.6 1069.5 3415.3C1045.5 3419 1010.5 3421.8 984.7 3423.7C959 3425.6 942.5 3426.7 915 3427C887.5 3427.3 845.8 3426.7 820 3425.5C794.2 3424.3 780.1 3422.4 760 3420C739.9 3417.6 709.4 3412.5 699.3 3411C698.3 3395.8 695.3 3353.5 693.4 3320C691.5 3286.5 690.4 3243.6 687.8 3210C685.2 3176.4 679.3 3133.8 677.6 3118.6C676 3133.8 671 3176.4 668.3 3210C665.6 3243.6 663.4 3286.9 661.2 3320C659 3353.1 656 3393.8 654.9 3408.5C645.8 3409.9 619.1 3414.5 600 3417C580.9 3419.5 567.1 3421.3 540 3423.4C512.9 3425.5 465.7 3429.1 437.3 3429.7C408.9 3430.3 392.1 3428.7 369.5 3427.1C346.9 3425.5 323.4 3423.6 301.7 3420.3C279.9 3417.1 251.7 3410.6 239 3407.6C226.3 3404.6 227.7 3403.3 225.4 3402.5Z" fill="none" stroke="#10202c" stroke-width="2.2" stroke-linejoin="round"/>
<path d="M428.8 2635.8Q433.5 2641.4 427.2 2647.1Q425.8 2641.4 428.8 2635.8ZM458.6 2640.1Q461.6 2649 457.2 2658Q456.4 2649 458.6 2640.1ZM487.4 2636.9Q489.6 2648.6 484.8 2660.3Q484.7 2648.6 487.4 2636.9ZM503.3 2643.4Q509.2 2649.6 501 2655.8Q499.3 2649.6 503.3 2643.4ZM509.6 2640.4Q513.1 2651.2 507.8 2661.9Q507 2651.2 509.6 2640.4ZM540.6 2636.6Q546.5 2652 538.8 2667.4Q537 2652 540.6 2636.6ZM567.1 2639.2Q572.4 2654.3 564.4 2669.4Q563.1 2654.3 567.1 2639.2ZM582.2 2637.7Q585.5 2653.8 577.7 2670Q577.7 2653.8 582.2 2637.7ZM599.2 2642.4Q604.5 2655 597.8 2667.6Q596.1 2655 599.2 2642.4ZM627.9 2643Q633.5 2658.4 624.9 2673.8Q623.6 2658.4 627.9 2643ZM641.7 2639.7Q648.2 2656.6 640 2673.6Q637.9 2656.6 641.7 2639.7ZM652 2639Q654.9 2656.9 648.9 2674.7Q648.7 2656.9 652 2639ZM673 2635.4Q676.3 2653.4 671.1 2671.3Q670.4 2653.4 673 2635.4ZM678.7 2634.6Q684.3 2653.4 676.7 2672.2Q675 2653.4 678.7 2634.6ZM693.6 2645Q699.8 2658.6 695.2 2672.3Q692.3 2658.6 693.6 2645ZM706.9 2639.5Q712.1 2659 709.4 2678.6Q706.6 2659 706.9 2639.5ZM720.4 2643.2Q727.3 2656.6 723.3 2669.9Q719.7 2656.6 720.4 2643.2ZM741.6 2640.5Q745.7 2655.3 742.4 2670Q740.5 2655.3 741.6 2640.5ZM751.1 2647.1Q756.7 2658.3 752 2669.4Q749.5 2658.3 751.1 2647.1ZM757.9 2640.4Q765.8 2656.1 761.1 2671.8Q757 2656.1 757.9 2640.4ZM778.8 2638.8Q785.8 2654.4 783.9 2670.1Q779.6 2654.4 778.8 2638.8ZM788.7 2641.9Q794.1 2656.7 791.2 2671.4Q788.2 2656.7 788.7 2641.9ZM808.5 2645Q816.1 2655.6 811.2 2666.2Q807.4 2655.6 808.5 2645ZM819.6 2642.6Q824.8 2653.7 822.3 2664.9Q819.5 2653.7 819.6 2642.6ZM821.6 2641Q828.8 2652.6 826.7 2664.3Q822.3 2652.6 821.6 2641ZM843.9 2640.1Q851.1 2652.4 847.3 2664.7Q843.4 2652.4 843.9 2640.1ZM854.4 2640Q860.6 2650.3 855.6 2660.6Q852.8 2650.3 854.4 2640ZM880.8 2643.7Q889.7 2649.7 884.5 2655.7Q879.8 2649.7 880.8 2643.7ZM888.7 2636.7Q896.1 2646.7 891.4 2656.8Q887.7 2646.7 888.7 2636.7ZM896.7 2640.4Q902.7 2648.5 901.1 2656.6Q897.4 2648.5 896.7 2640.4ZM931.8 2637.2Q938.7 2644.8 933.3 2652.4Q930 2644.8 931.8 2637.2ZM347 2648.8Q349.5 2658.8 344.1 2668.9Q344 2658.8 347 2648.8ZM373.8 2660.6Q375.2 2667.5 369.3 2674.4Q370.1 2667.5 373.8 2660.6ZM380.3 2659.8Q384.4 2668.2 378.9 2676.6Q377.6 2668.2 380.3 2659.8ZM392.4 2661.6Q395.4 2669.2 390.2 2676.8Q389.6 2669.2 392.4 2661.6ZM406.6 2666.4Q407.2 2675.9 400 2685.3Q401.8 2675.9 406.6 2666.4ZM415.3 2670.5Q418.2 2678.8 410 2687.1Q410.4 2678.8 415.3 2670.5ZM442.6 2678.3Q444.5 2684.4 439.3 2690.5Q439.6 2684.4 442.6 2678.3ZM456.7 2678.9Q462 2685.5 455 2692Q453.3 2685.5 456.7 2678.9ZM469.4 2678Q474.6 2688.5 465.5 2699Q464.6 2688.5 469.4 2678ZM476.1 2677.4Q479.4 2688.5 471.1 2699.6Q471.2 2688.5 476.1 2677.4ZM498.2 2684.2Q501.1 2693.3 493 2702.4Q493.4 2693.3 498.2 2684.2ZM506.4 2678.6Q511.5 2688.4 504.3 2698.3Q502.8 2688.4 506.4 2678.6ZM520.4 2684.8Q522.1 2695.7 515.1 2706.6Q516 2695.7 520.4 2684.8ZM540.7 2687Q543.8 2695.7 536.9 2704.5Q536.7 2695.7 540.7 2687ZM552.9 2687Q555.5 2697.3 550.7 2707.5Q550.4 2697.3 552.9 2687ZM571.3 2691Q573.8 2701.9 569 2712.7Q568.7 2701.9 571.3 2691ZM588.8 2692.6Q595.3 2704.4 587.6 2716.3Q585.4 2704.4 588.8 2692.6ZM607 2695.1Q612.3 2704.5 604.5 2714Q603.2 2704.5 607 2695.1ZM615.5 2696.2Q619 2706.1 613.4 2716.1Q612.6 2706.1 615.5 2696.2ZM629.8 2696.4Q633.3 2706.3 627.1 2716.1Q626.5 2706.3 629.8 2696.4ZM641 2694.7Q645.6 2704.6 638.8 2714.5Q637.6 2704.6 641 2694.7ZM656.6 2693Q661.5 2706.2 655.7 2719.5Q654.1 2706.2 656.6 2693ZM676 2696.9Q679.2 2707.7 674.1 2718.6Q673.4 2707.7 676 2696.9ZM680.1 2692.3Q688.4 2704.7 681.8 2717.2Q678 2704.7 680.1 2692.3ZM696.1 2695.9Q703.8 2704.5 696.6 2713.2Q693.4 2704.5 696.1 2695.9ZM705.5 2698.7Q712 2709.5 706.7 2720.3Q703.7 2709.5 705.5 2698.7ZM710.8 2696.2Q715 2706.8 712 2717.3Q710 2706.8 710.8 2696.2ZM719.1 2697.5Q725.4 2707.3 721.5 2717.2Q718.3 2707.3 719.1 2697.5ZM739.7 2698.2Q744.9 2708.3 741.6 2718.4Q738.9 2708.3 739.7 2698.2ZM747.5 2690.7Q753.4 2702.6 751 2714.5Q747.6 2702.6 747.5 2690.7ZM759.7 2692.3Q765.5 2702.1 762.1 2711.8Q759.1 2702.1 759.7 2692.3ZM776.6 2688.4Q785.4 2699.8 780.6 2711.3Q775.9 2699.8 776.6 2688.4ZM785.8 2687.7Q793.6 2700 790.2 2712.4Q785.8 2700 785.8 2687.7ZM800.3 2686.4Q807.8 2696.7 801.5 2707Q798.2 2696.7 800.3 2686.4ZM808.7 2687.6Q815.5 2700.1 811.8 2712.7Q808.1 2700.1 808.7 2687.6ZM816.8 2685.7Q824.6 2698.3 821.7 2710.9Q817.1 2698.3 816.8 2685.7ZM826.3 2685Q834.2 2695.5 829.2 2706Q825.2 2695.5 826.3 2685ZM861 2680Q868.8 2688.7 862.4 2697.4Q858.8 2688.7 861 2680ZM867 2678.5Q872 2690.1 869.7 2701.8Q866.9 2690.1 867 2678.5ZM881.1 2680.9Q887.9 2687.6 882.7 2694.3Q879.5 2687.6 881.1 2680.9ZM891.6 2680.4Q898.9 2686.2 892.9 2692.1Q889.6 2686.2 891.6 2680.4ZM899 2675.6Q907.4 2684.8 902.3 2694.1Q897.9 2684.8 899 2675.6ZM914.3 2674.4Q921.6 2683.5 916.9 2692.6Q913.2 2683.5 914.3 2674.4ZM921.9 2673.4Q928.2 2684 926.7 2694.6Q922.7 2684 921.9 2673.4ZM941.8 2669.8Q948.5 2678.6 946.1 2687.5Q942.1 2678.6 941.8 2669.8ZM955.2 2666.6Q964 2675 958.6 2683.5Q954 2675 955.2 2666.6ZM972.9 2661.3Q979.8 2671.8 977.2 2682.3Q973.1 2671.8 972.9 2661.3ZM991.9 2655.9Q999.1 2665.8 993.3 2675.8Q990 2665.8 991.9 2655.9ZM1006.9 2653.8Q1014.5 2662.7 1009.9 2671.6Q1006 2662.7 1006.9 2653.8ZM353 2694.8Q355.5 2703.7 349 2712.6Q349.2 2703.7 353 2694.8ZM372.8 2695.1Q378.2 2710.9 369.2 2726.6Q368.2 2710.9 372.8 2695.1ZM381.3 2700Q386.4 2712.8 379.4 2725.6Q377.9 2712.8 381.3 2700ZM391.1 2708.5Q396.1 2717.3 387.2 2726.2Q386.4 2717.3 391.1 2708.5ZM393.2 2707.1Q399.2 2720.7 391.5 2734.3Q389.6 2720.7 393.2 2707.1ZM402.2 2705Q405.6 2717.8 399.9 2730.5Q399.2 2717.8 402.2 2705ZM415.1 2711.5Q418.5 2721.9 411.7 2732.4Q411.3 2721.9 415.1 2711.5ZM433 2718.2Q435.8 2731.3 427.7 2744.4Q428.1 2731.3 433 2718.2ZM442.8 2718.1Q447.6 2731 439.9 2743.8Q438.8 2731 442.8 2718.1ZM455.1 2719.4Q458.2 2729.1 451 2738.8Q451 2729.1 455.1 2719.4ZM465.2 2721Q469 2734.8 462.7 2748.6Q462 2734.8 465.2 2721ZM476.3 2724.3Q478.3 2733.7 472.2 2743.1Q472.6 2733.7 476.3 2724.3ZM486.8 2721.6Q490.9 2735.4 480.9 2749.2Q481 2735.4 486.8 2721.6ZM495.5 2720.1Q499.9 2734 493.2 2747.8Q492.1 2734 495.5 2720.1ZM505.4 2729.3Q512.1 2737.8 504 2746.2Q501.7 2737.8 505.4 2729.3ZM510.9 2726.2Q515.3 2736.9 509.4 2747.5Q508.1 2736.9 510.9 2726.2ZM524.3 2727.7Q530.5 2739.1 522.5 2750.4Q520.5 2739.1 524.3 2727.7ZM537.3 2732.3Q542.5 2742 533.8 2751.7Q532.8 2742 537.3 2732.3ZM544.1 2728.1Q549.3 2740.4 542.5 2752.6Q540.8 2740.4 544.1 2728.1ZM558.7 2733.4Q563.6 2743.7 555.2 2754Q554.3 2743.7 558.7 2733.4ZM565.5 2734.6Q568.7 2744.2 564.1 2753.8Q563.2 2744.2 565.5 2734.6ZM592.5 2732.4Q594.4 2745 588.9 2757.6Q589.2 2745 592.5 2732.4ZM598.1 2738.1Q603.2 2747.5 595.4 2757Q594.2 2747.5 598.1 2738.1ZM616.8 2742.1Q623 2750.3 615.6 2758.6Q613.5 2750.3 616.8 2742.1ZM629.1 2736.8Q632.4 2749.1 625.8 2761.5Q625.4 2749.1 629.1 2736.8ZM632.5 2738.8Q637.1 2748.3 631.3 2757.7Q629.8 2748.3 632.5 2738.8ZM647 2743.7Q650.8 2750.9 646.4 2758.2Q645.1 2750.9 647 2743.7ZM651.3 2740.6Q654.7 2750.4 649.2 2760.2Q648.5 2750.4 651.3 2740.6ZM663.9 2745.1Q669.7 2751.5 663.2 2757.9Q661.1 2751.5 663.9 2745.1ZM680.9 2741.4Q685.4 2752.2 681.7 2763Q679.7 2752.2 680.9 2741.4ZM693.2 2740Q701.3 2752 695.7 2764Q691.7 2752 693.2 2740ZM701.6 2737.2Q709.7 2747 703.4 2756.7Q699.6 2747 701.6 2737.2ZM716.3 2740.2Q723.7 2749.7 717.1 2759.2Q713.9 2749.7 716.3 2740.2ZM748.1 2733.7Q755.7 2745.4 749.9 2757.1Q746.4 2745.4 748.1 2733.7ZM768.6 2736.8Q776.5 2745.3 771.8 2753.7Q767.7 2745.3 768.6 2736.8ZM778.3 2735.3Q786.3 2744.9 781.2 2754.5Q777.1 2744.9 778.3 2735.3ZM789.3 2731.9Q795.5 2742.1 792.1 2752.4Q788.8 2742.1 789.3 2731.9ZM799.7 2729.9Q807.5 2743.8 801 2757.6Q797.5 2743.8 799.7 2729.9ZM808 2729.4Q816.8 2741.6 813.6 2753.9Q808.3 2741.6 808 2729.4ZM825.1 2731.5Q832.5 2739.8 826.7 2748.1Q823.3 2739.8 825.1 2731.5ZM834.7 2729.1Q844.3 2741.6 839.3 2754.2Q834 2741.6 834.7 2729.1ZM849.1 2725Q857 2738.5 850.9 2751.9Q847.3 2738.5 849.1 2725ZM855.2 2724.3Q863.4 2737 859.6 2749.6Q854.9 2737 855.2 2724.3ZM865.8 2725.5Q875.2 2734.3 869.7 2743.1Q864.8 2734.3 865.8 2725.5ZM873.5 2722.7Q883 2732.9 878.5 2743.1Q873.1 2732.9 873.5 2722.7ZM889.8 2720.1Q896.8 2730.5 892 2740.8Q888.6 2730.5 889.8 2720.1ZM908.4 2717.5Q913.9 2727.7 910.8 2738Q907.9 2727.7 908.4 2717.5ZM916.1 2714.7Q924.9 2729.7 920.3 2744.7Q915.5 2729.7 916.1 2714.7ZM928.6 2716.3Q936.3 2730.3 933.1 2744.3Q928.7 2730.3 928.6 2716.3ZM934.9 2709.9Q940.5 2722.4 937.9 2734.9Q934.8 2722.4 934.9 2709.9ZM941.5 2706.4Q950.4 2723.3 948.1 2740.2Q942.6 2723.3 941.5 2706.4ZM961.2 2707.2Q970.2 2718.4 964.7 2729.6Q960 2718.4 961.2 2707.2ZM972.4 2704Q979.3 2717.8 974.7 2731.7Q971.3 2717.8 972.4 2704ZM992.5 2701.5Q998.6 2708.7 996.4 2715.9Q992.8 2708.7 992.5 2701.5ZM1012.9 2696.9Q1021.1 2704.3 1016.2 2711.8Q1011.9 2704.3 1012.9 2696.9ZM334.5 2729.9Q338.9 2739.1 332.5 2748.3Q331.3 2739.1 334.5 2729.9ZM357.7 2741.5Q363.2 2746.5 354.3 2751.6Q353.1 2746.5 357.7 2741.5ZM404.4 2761.5Q408 2767.9 402.2 2774.2Q401.4 2767.9 404.4 2761.5ZM411.7 2762.6Q416.4 2768.7 410.7 2774.9Q409.1 2768.7 411.7 2762.6ZM425.5 2763.9Q427.6 2769.6 421.9 2775.2Q422.2 2769.6 425.5 2763.9ZM434.7 2766.2Q436.8 2771.2 431.4 2776.2Q431.5 2771.2 434.7 2766.2ZM461.3 2762.3Q464.5 2771.3 455.9 2780.3Q456.3 2771.3 461.3 2762.3ZM471.6 2768Q476.2 2774.2 468.1 2780.3Q467.3 2774.2 471.6 2768ZM479.9 2771Q482.1 2776.8 477.1 2782.6Q477.1 2776.8 479.9 2771ZM487.7 2763.6Q489.3 2773.3 482.4 2783Q483.3 2773.3 487.7 2763.6ZM496 2771.5Q499.3 2777.7 494.6 2783.8Q493.7 2777.7 496 2771.5ZM503 2772.5Q508 2780.6 501.3 2788.7Q499.8 2780.6 503 2772.5ZM521.2 2775.7Q527.3 2782.6 518.8 2789.5Q517.1 2782.6 521.2 2775.7ZM540.1 2775.3Q544.1 2782 536 2788.8Q535.7 2782 540.1 2775.3ZM546.1 2773.4Q552.9 2780.4 545.2 2787.4Q542.8 2780.4 546.1 2773.4ZM563.5 2777.3Q567.9 2784.6 561 2792Q560 2784.6 563.5 2777.3ZM572 2776.1Q574.6 2782.2 569.2 2788.3Q569 2782.2 572 2776.1ZM579.4 2774.9Q582.7 2784.5 576.6 2794.2Q576.1 2784.5 579.4 2774.9ZM588.2 2779.8Q591.1 2786.5 585.3 2793.2Q585 2786.5 588.2 2779.8ZM600.2 2778.1Q604.2 2788.1 598.2 2798.2Q597.2 2788.1 600.2 2778.1ZM619.4 2782Q624.1 2788.6 618.6 2795.2Q617 2788.6 619.4 2782ZM626.7 2780.1Q632 2785.8 624.9 2791.5Q623.3 2785.8 626.7 2780.1ZM639.9 2785.8Q645.2 2792.5 637.8 2799.3Q636.3 2792.5 639.9 2785.8ZM661.9 2783.2Q666.8 2791.5 660.3 2799.8Q658.8 2791.5 661.9 2783.2ZM676.4 2782.3Q681.4 2792.2 674.8 2802.1Q673.3 2792.2 676.4 2782.3ZM681.2 2782.8Q689.6 2792 683.7 2801.1Q679.6 2792 681.2 2782.8ZM693.5 2784.3Q699.9 2791 695.3 2797.6Q692.1 2791 693.5 2784.3ZM702.9 2783Q709.1 2790.6 705.3 2798.1Q702.1 2790.6 702.9 2783ZM742.3 2781.1Q749.4 2789.3 744.4 2797.6Q740.9 2789.3 742.3 2781.1ZM758.1 2779.4Q762.5 2786.4 759.8 2793.4Q757.5 2786.4 758.1 2779.4ZM769.3 2781.5Q775.8 2787.8 771 2794Q767.9 2787.8 769.3 2781.5ZM774.8 2777.8Q781.7 2785.6 777.5 2793.4Q773.9 2785.6 774.8 2777.8ZM785.6 2774.6Q791.9 2785.8 789.9 2797.1Q786.1 2785.8 785.6 2774.6ZM838.5 2773.4Q846.5 2780 840.6 2786.6Q836.7 2780 838.5 2773.4ZM844.1 2774.5Q848.9 2781.7 845.8 2789Q843.4 2781.7 844.1 2774.5ZM849.5 2769.1Q857 2780.3 855.2 2791.4Q850.5 2780.3 849.5 2769.1ZM872.8 2770.1Q879.9 2777.1 876.9 2784.2Q872.9 2777.1 872.8 2770.1ZM887 2766.1Q895.7 2774.8 890.2 2783.5Q885.8 2774.8 887 2766.1ZM894.9 2766.4Q901.8 2774.2 899.5 2782.1Q895.4 2774.2 894.9 2766.4ZM917.2 2762.3Q923 2771.6 921.4 2780.9Q917.8 2771.6 917.2 2762.3ZM938.3 2763.4Q944 2768.4 939.3 2773.5Q936.7 2768.4 938.3 2763.4ZM962.3 2750.2Q968.2 2760.4 964 2770.6Q961.1 2760.4 962.3 2750.2ZM967.6 2753.6Q975.9 2760.6 971.8 2767.6Q967.2 2760.6 967.6 2753.6ZM986.1 2746.4Q991.2 2752.7 987.3 2759Q984.9 2752.7 986.1 2746.4ZM995.8 2743Q1003.6 2751.5 997.7 2760Q994 2751.5 995.8 2743ZM1001.7 2739.7Q1008.8 2745.5 1005.4 2751.2Q1001.4 2745.5 1001.7 2739.7ZM1016 2736.1Q1023.6 2742.5 1017.6 2748.8Q1014.1 2742.5 1016 2736.1Z" fill="#cfd1d2" stroke="#7f979c" stroke-width="0.7"/>
<path d="M388.4 2633.3Q387.7 2638.5 385.5 2643.7M398.1 2635.7Q395.7 2641.1 395.8 2646.4M409.9 2636.6Q405 2643.5 405.3 2650.5M418.5 2635.2Q417.6 2644.5 414.4 2653.7M426.6 2633.6Q426.7 2644 423.7 2654.4M441 2639.1Q439.4 2648.8 436.8 2658.6M454.1 2634.6Q453.6 2648.7 447.2 2662.8M456.6 2633.5Q453.5 2647.2 454.4 2661M465.8 2636.6Q464.8 2648.8 463.2 2661M482.5 2633.5Q482.4 2649.1 477.6 2664.7M485.4 2632.4Q484.1 2648.8 481.8 2665.2M502.1 2636.7Q500.5 2650.7 496.8 2664.8M507.4 2637.4Q503.5 2652.1 504.9 2666.7M512.7 2632.2Q508.7 2650.2 510.3 2668.1M525.6 2634.4Q521.4 2651.6 521.8 2668.9M538.3 2633.7Q536.3 2651.6 536.1 2669.6M553.3 2630.8Q551.2 2651.5 548.8 2672.3M565 2635.3Q564.9 2654.2 561.6 2673.2M580.3 2633.5Q579 2652.9 574.9 2672.3M583.1 2635.1Q580.4 2655 578.3 2675M597.1 2635Q594.1 2655.7 594.8 2676.4M604.5 2634.9Q606.1 2655.2 602.9 2675.5M617.5 2634.4Q617.1 2656.8 613.1 2679.1M626.1 2636.2Q621.8 2656.6 622.1 2677M639.5 2633.8Q636.1 2656.8 637.2 2679.8M649.9 2633.5Q646.5 2656.1 646.1 2678.8M656 2637.9Q655.4 2658.2 653.9 2678.5M670.6 2633.3Q666.5 2656.5 668.2 2679.7M676.3 2632Q675.2 2655.3 673.9 2678.7M679.2 2635.7Q681.9 2657.1 681.4 2678.5M690.7 2637.3Q691.6 2658.6 693.2 2679.9M704.1 2634.8Q707.6 2658 707 2681.2M706.8 2636.4Q706.6 2658 710.5 2679.6M717.1 2635.3Q722.1 2656.9 721.7 2678.6M729.3 2631.2Q729.5 2655.1 731.8 2678.9M738.9 2632.6Q740.2 2655.5 740.1 2678.3M748.4 2639.6Q747.7 2658.8 749.8 2678M755 2635.8Q754.4 2655.1 758.8 2674.4M772.2 2637Q770.4 2655.1 773.9 2673.2M775.9 2636.1Q776.7 2654.8 781.9 2673.4M785.8 2637.8Q786.1 2655.7 788.9 2673.6M792.1 2631.5Q794.1 2651.3 796.5 2671.1M805 2637.1Q806.5 2654 809.3 2670.9M816.3 2636.2Q815.7 2652.5 820.3 2668.9M818.1 2636.2Q820.2 2651.9 824.9 2667.6M828 2634.2Q830.3 2650.1 835.7 2665.9M841.1 2638.1Q843.2 2653.4 845.3 2668.8M851.5 2633.5Q850.9 2650.7 853.5 2667.9M863.3 2635.8Q863.3 2650.5 867.5 2665.2M865.1 2635.6Q870.5 2649.3 873.2 2662.9M876.4 2637.6Q882.3 2650.4 884.3 2663.2M885.4 2630.9Q889.7 2647.6 890 2664.2M892.5 2634Q896.3 2647.3 899.7 2660.7M905.7 2638.9Q910.3 2649.5 909.2 2660.1M920.1 2632Q919.9 2645.3 922.6 2658.6M928.9 2633.5Q931.2 2646 931.4 2658.5M932.3 2635.8Q939.3 2645.6 940.6 2655.4M939.3 2635.6Q942.3 2643 948.1 2650.5M953.8 2633.8Q955.3 2640.7 956.7 2647.5M960.6 2634.5Q960.3 2639.7 966 2644.8M345.5 2641.8Q341.9 2657.5 341 2673.2M354.8 2643.6Q351.2 2660.2 349.2 2676.8M373.4 2654.2Q369.5 2667.1 365 2680M378.1 2656Q374.7 2670.2 375.7 2684.5M390.4 2658.3Q387.7 2672.2 386.3 2686.1M405.5 2662.3Q398.9 2675.2 396.5 2688.1M414.2 2666.2Q409.6 2679 406 2691.8M417.3 2665.9Q416.6 2678.9 414.4 2692M428.2 2668.9Q428.6 2682.8 423.4 2696.8M441.3 2674Q437.6 2686.9 434.3 2699.9M455.2 2671.3Q451.2 2685.5 451.4 2699.8M468 2672.1Q466.8 2687.7 462.1 2703.4M474.6 2673.1Q468.6 2688.2 467.7 2703.4M482.5 2678Q480.7 2692 477.3 2706M497.4 2678.1Q492 2693 489 2707.8M504.2 2675.4Q501.6 2691 500.9 2706.7M519.5 2678.3Q517.4 2694.6 511.6 2711M527.4 2679.6Q526.8 2696.1 524.3 2712.6M539.8 2679.6Q533.4 2696.6 532.4 2713.5M551.1 2681Q552 2696.8 547.7 2712.5M555.1 2681.9Q553.5 2699.1 553.6 2716.3M569.3 2686.2Q569.6 2701.9 566 2717.7M579.8 2683.4Q576.4 2700.7 573.9 2718M586.5 2688.5Q584.2 2704.5 584.9 2720.5M605.5 2687.6Q602 2704.3 601.1 2721.1M613.5 2691.6Q614.6 2706.8 610.3 2722M627.9 2692.5Q627.5 2706.7 623.9 2721M639 2690.7Q634.5 2707.5 635.2 2724.3M654.3 2689.6Q653.6 2707.2 653 2724.8M665.8 2692.1Q661.7 2707.7 662.2 2723.3M674.1 2689.6Q671.1 2707.4 671.1 2725.2M677.4 2689.7Q680.4 2706.3 679.7 2723M693.4 2690.4Q691.6 2706.5 694.4 2722.6M702.6 2693Q706.2 2708.5 704.5 2724M708.1 2692.2Q709.9 2708.5 709.9 2724.8M715.9 2692.2Q715.3 2708.3 719.9 2724.3M724.8 2690.2Q725 2706 727.5 2721.8M736.6 2691.8Q741 2706.9 739.4 2722.1M744.7 2688.6Q749.4 2704.8 749.5 2720.9M756.6 2687.2Q758.7 2704.2 760.7 2721.2M760.9 2685.8Q761.6 2701.8 766.8 2717.8M773.6 2685.4Q779 2702.5 779.6 2719.6M782.5 2683.4Q783.7 2699.4 788.2 2715.4M797.6 2683.7Q800.1 2698.7 799.4 2713.8M805.6 2682.9Q807.1 2698.9 809.6 2714.9M813.8 2683Q816.5 2698.5 819.8 2713.9M822.9 2678.4Q826 2695.3 827.6 2712.1M830.7 2678Q836.7 2694.5 838.3 2711.1M843.7 2678.4Q850.5 2694.2 851.9 2710M858.2 2676.4Q860.9 2691.2 860.5 2705.9M864.2 2675.4Q865.9 2690.2 867.5 2705.1M878.1 2676.7Q877.4 2690 881.3 2703.3M888.7 2676.8Q890.9 2689.4 891.5 2702M895.9 2672.1Q899.9 2686.6 901 2701.2M911.1 2669.8Q910.4 2684.3 915.3 2698.7M918.5 2669.2Q918.8 2683.8 925 2698.4M932.3 2667.7Q933.3 2681.7 938.7 2695.6M938.8 2667.7Q943.7 2681.2 945.3 2694.7M952.2 2664.3Q956.2 2677 957.3 2689.7M959.2 2657.7Q963.2 2673.5 966.7 2689.4M969.6 2657.5Q974.2 2671.1 975.1 2684.7M989 2651.2Q991.5 2665.4 991.1 2679.6M992 2649.6Q995.3 2665.2 996.3 2680.8M1003 2646Q1005.7 2660.7 1008.1 2675.3M352.2 2687.4Q350.9 2703.5 345 2719.6M361.2 2692.6Q359.8 2707.9 356 2723.2M370.7 2692.2Q369.3 2710.5 366.5 2728.8M379.3 2693.8Q375 2713.6 376.3 2733.5M390.3 2701Q388.8 2718.4 382.6 2735.8M391 2701.3Q391.8 2720 388.8 2738.6M400.1 2701.3Q397.9 2719.8 396.6 2738.2M413.3 2706.9Q411.3 2723.7 407.8 2740.5M423.4 2709Q419.2 2727.3 419.8 2745.6M431.8 2711.4Q425.2 2729.6 424.5 2747.9M440.9 2713.1Q437.6 2729.9 437 2746.7M453.5 2715Q450.8 2731.5 446.6 2747.9M463.3 2713.7Q464 2733.1 459.9 2752.4M475.3 2717.2Q470.8 2733.8 468.1 2750.4M485 2718.2Q479.1 2735.4 477.6 2752.7M493.3 2717.1Q490.3 2734.8 490.3 2752.5M503.4 2722.5Q499.8 2738.3 500.9 2754.1M508.9 2719.5Q507 2737.3 506.4 2755M522.1 2723.1Q520.2 2740.1 519.5 2757M535.9 2726.2Q534.6 2742.5 530 2758.8M541.8 2724.6Q542.4 2741.3 539.6 2758M557 2729.1Q552.4 2744.5 551.7 2759.9M563.4 2729.1Q564.9 2744.6 561.1 2760.1M581 2729.9Q577.8 2745.4 575.5 2761M590.6 2728.8Q591 2745.8 585.6 2762.8M596.6 2730.5Q592.9 2746.8 592.1 2763.2M605.6 2730.2Q606.2 2747.2 603.5 2764.3M614.8 2735.2Q612.8 2749.8 612.7 2764.4M627 2733.2Q626.9 2750.1 622.6 2766.9M630.4 2733Q628.2 2749 628.3 2765M644.8 2736.7Q646.7 2751 643.6 2765.3M649.5 2734Q645.4 2749.5 646.2 2765M661.8 2737.7Q661.7 2751.9 660.3 2766.2M670.7 2737.4Q669.1 2752.1 668.3 2766.9M678.2 2736.5Q676.2 2752.7 679.4 2769M690.2 2735.8Q692.3 2752.6 693.7 2769.4M698.8 2733.2Q700.9 2749.9 701.8 2766.6M713.7 2736Q715 2750.5 714.8 2765M724.4 2734Q726.1 2750.5 727.2 2767.1M733.8 2732.4Q735.4 2748.9 737 2765.5M745.5 2731.5Q747.3 2748.2 748 2764.9M756.3 2729Q755.8 2747.1 759 2765.1M765 2731.2Q768.6 2746.2 770.7 2761.2M774.6 2727.8Q775.3 2744.8 779.8 2761.7M786.2 2727.3Q787.2 2743.4 790.6 2759.5M796.9 2725.3Q799.6 2742.5 798.7 2759.7M804.7 2726.1Q807.7 2741.6 811.8 2757.1M814 2727.4Q812.7 2742.6 816.4 2757.8M822 2725.3Q821.7 2741.1 825.1 2756.9M831 2722.8Q836.7 2739.5 837.1 2756.3M846.3 2720.1Q848.8 2737.3 848.6 2754.4M851.7 2718.6Q856.6 2736.7 858 2754.9M861.9 2719.3Q864.3 2735.5 869.2 2751.7M870 2718.4Q872.7 2734.5 877.8 2750.6M886.5 2713.2Q887.1 2731.6 890.5 2749.9M890.3 2715.6Q893 2732.3 898.4 2749M905.1 2711Q907.6 2729.2 909.5 2747.4M912.9 2709.9Q914.1 2728.7 918.2 2747.4M925.2 2710.8Q930.5 2729.3 931.2 2747.8M932.1 2707.7Q933.8 2726.3 936.6 2744.9M938.5 2704.3Q942.9 2723.4 946.1 2742.5M957.6 2700.5Q962.3 2719.3 963.6 2738.1M969.3 2696.7Q968.5 2717 972.7 2737.3M983.2 2693.8Q984 2712.3 989.4 2730.9M987.9 2693.8Q991.6 2709.8 996.6 2725.9M998.1 2691.9Q1002.8 2708.5 1002.6 2725.1M1008.8 2689.3Q1009.3 2704.2 1015.3 2719.2M332.3 2726.9Q329.5 2739.6 329.5 2752.3M345.8 2730.7Q339.5 2744.5 338.8 2758.4M357.6 2734.5Q353.2 2746.5 349.4 2758.6M361.5 2738.4Q356.6 2749.7 356.1 2761.1M372.9 2740.3Q369.1 2753.6 368 2766.8M377.7 2745.9Q373.3 2756.7 373.5 2767.4M389.6 2747.7Q386.6 2759 386.1 2770.3M403.3 2753.6Q398.7 2765 399.3 2776.4M409.8 2755.1Q409 2766.9 407.8 2778.6M424.9 2758.3Q419.3 2769.7 417.5 2781.2M434.2 2759.8Q431.2 2770.6 427.2 2781.5M442.3 2760.8Q442.3 2771.5 438 2782.1M459.4 2760.3Q453.5 2773.4 451.6 2786.5M470.3 2763.7Q469 2776 463.3 2788.3M479.2 2763.2Q476.7 2774.8 473.8 2786.4M485.8 2761.5Q479.5 2775.7 478 2789.8M494.1 2766.6Q494.1 2778.2 491.4 2789.9M501.2 2766Q502 2779 498.4 2792M519.9 2769.1Q517.8 2781.7 515.5 2794.2M528.8 2769.6Q527.4 2782.1 521.1 2794.5M538.9 2771.1Q533.7 2783.1 531.6 2795M544 2767.6Q545.9 2781.7 542.2 2795.9M562.3 2769.7Q560.9 2784.4 557.4 2799M570.8 2770.6Q566.5 2784.2 564.4 2797.9M577.6 2770.4Q573.3 2784.5 573.5 2798.5M587 2773.5Q584.7 2786.2 581.6 2798.8M598.2 2772.6Q595.2 2786.4 595.5 2800.3M610.4 2774.9Q607.3 2788.5 606.8 2802.1M617.1 2777.3Q616.1 2790.2 615.7 2803.1M625.1 2774.4Q622 2787.4 621 2800.3M638.6 2778.3Q636.6 2790.3 634.8 2802.3M647.2 2777.3Q648.4 2790 644.1 2802.7M659.8 2778.9Q657.3 2791.7 657.4 2804.4M674.3 2776.8Q672 2790.8 672.1 2804.8M678.4 2780.8Q678.2 2792.1 681.6 2803.5M690.1 2778.2Q694.8 2790.5 693.5 2802.7M699.7 2778.6Q701.9 2791.6 703.8 2804.6M713.6 2776.9Q715.8 2789.3 716.4 2801.7M722.3 2775.9Q726 2788.8 724 2801.8M728.2 2778Q733.1 2789.4 732.1 2800.8M739.1 2775.5Q738.9 2788.9 742.5 2802.4M755.2 2775.6Q755.6 2788.8 758.3 2802.1M765.7 2773.5Q766.2 2787.1 769.4 2800.6M771.1 2770.8Q771.3 2785.5 776.2 2800.3M782.5 2771Q786.5 2785.4 787.9 2799.9M799.5 2769.9Q798.8 2783.6 803.5 2797.3M811.5 2768.2Q811.4 2782 816.7 2795.9M818.6 2767.9Q822.5 2780.6 825.1 2793.4M835.2 2768.5Q835.6 2781.7 839.4 2794.9M841 2769.3Q841.2 2781.7 843.9 2794M846.1 2765.7Q848.2 2779.7 853.3 2793.7M859.6 2763Q861.6 2777.4 866.3 2791.8M868 2762.4Q870.9 2775.1 875.5 2787.8M883.5 2760.5Q887.3 2774.5 888.7 2788.5M890.4 2759.8Q894.5 2773.5 898.5 2787.2M904.8 2758Q905.3 2771.6 909.6 2785.3M913.8 2758.4Q916.8 2771.6 919.7 2784.7M923.9 2760Q927.9 2771.4 928.7 2782.8M935.3 2757.4Q937.4 2769.3 937.5 2781.1M944.6 2752.3Q945.5 2764.6 951 2777M959.6 2748Q958.9 2761.5 961.9 2775.1M963.9 2749.6Q965.4 2759.6 969.9 2769.6M983.3 2743.7Q985.1 2755.6 985.6 2767.4M992.9 2739.3Q993.6 2751 995.5 2762.7M998.5 2737.4Q1003.9 2748.1 1005.3 2758.8M1013.1 2732.6Q1011.8 2743.9 1016 2755.2" fill="none" stroke="#3f7d86" stroke-width="1" stroke-linecap="round"/>
<path d="M329 2676.1Q335.2 2683.6 341.4 2681.2T353.9 2683.3Q362.3 2689 370.7 2689.3T387.6 2693.1Q395.1 2699.4 402.5 2698.1T417.5 2700.5Q425.5 2707.9 433.6 2705.4T449.6 2707.3Q455.7 2712.4 461.8 2710.1T473.9 2710.8Q482.6 2717.1 491.3 2714.4T508.6 2715.4Q517.1 2720.4 525.5 2718.5T542.3 2719.6Q549.6 2726.8 556.9 2722.8T571.6 2723.2Q578.1 2731 584.7 2726.1T597.8 2725.8Q606.7 2730.9 615.6 2728.4T633.4 2729Q639.2 2735.6 645.1 2730.9T656.7 2730.1Q665.8 2736.2 674.8 2731.4T692.9 2730.3Q699.4 2736.6 705.9 2731T718.9 2729.2Q724.8 2734.8 730.6 2729.3T742.3 2727.2Q749.6 2733.7 756.9 2727.2T771.5 2724.6Q778 2730.3 784.6 2724.2T797.7 2721.6Q804.2 2728 810.7 2721.2T823.8 2718.4Q830.5 2723.4 837.3 2717.7T850.8 2715Q859.5 2721.6 868.2 2714T885.6 2710.3Q893.6 2715.9 901.6 2708.7T917.6 2704.9Q926.8 2712.5 936 2702.5T954.4 2697.1Q960.6 2703.1 966.8 2694.7T979.1 2690Q987.4 2697.1 995.7 2686.6T1012.2 2680.3Q1015.9 2686.6 1019.6 2679.5T1027 2676.1M324 2719.6Q333.1 2727.5 342.2 2727.3T360.4 2731.8Q366.3 2737.1 372.3 2737.3T384.2 2740.7Q392.9 2747.9 401.5 2747.1T418.9 2750.5Q427 2756.4 435.1 2753.7T451.2 2754.6Q459.1 2761.4 467 2757.7T482.7 2758Q490.5 2763.5 498.3 2760.8T513.9 2761.4Q521.1 2767.6 528.4 2763.8T542.9 2763.8Q551.2 2771.8 559.5 2766.8T576 2766.6Q585.1 2773.2 594.2 2769.4T612.3 2769.6Q619.6 2775.4 626.9 2771.8T641.5 2771.6Q647.4 2776.7 653.3 2773.1T665 2772.5Q672.4 2778.5 679.8 2773.6T694.6 2772.4Q701.6 2780.1 708.7 2773.4T722.9 2771.3Q730.5 2778 738.1 2771.4T753.2 2768.8Q759.8 2773.9 766.4 2768.7T779.5 2766.6Q786.4 2772 793.3 2766.5T807.1 2764.3Q814.6 2772.3 822.2 2764.6T837.2 2761.8Q845.3 2767.3 853.5 2761.2T869.7 2758.4Q878.6 2765.8 887.4 2757.9T905.2 2754.5Q913.5 2762.3 921.8 2753.9T938.5 2750.1Q946.9 2757.5 955.3 2746.9T972.1 2740.6Q979.1 2748.6 986.1 2737T1000.1 2730.1Q1008.1 2735.6 1016.1 2726T1032 2719.6M319 2754.7Q325.6 2761.3 332.2 2760.5T345.3 2763.7Q352.4 2770.5 359.4 2769.4T373.5 2772.4Q381.5 2777.6 389.4 2778T405.3 2781.4Q411.1 2789 416.9 2785.8T428.5 2787.1Q435.1 2792.8 441.8 2790T455.1 2790.7Q464.3 2797.1 473.6 2794.5T492 2795.7Q500.7 2802.2 509.4 2799T526.7 2799.7Q534.7 2805.1 542.7 2802T558.7 2802.2Q566.7 2809.8 574.6 2805T590.6 2804.7Q598.2 2812 605.7 2807.4T620.9 2807.1Q629 2812.3 637.1 2809.1T653.3 2809.1Q661.7 2815.8 670.1 2810.7T686.9 2809.7Q693.7 2814.8 700.5 2810.2T714.1 2808.6Q722.9 2815.1 731.7 2808.6T749.2 2806Q757.5 2813.7 765.8 2806.2T782.3 2803.4Q790.6 2811.2 798.8 2803.7T815.3 2800.8Q822.4 2808.2 829.6 2801.1T843.8 2798.5Q851.1 2806.3 858.4 2798.1T873.1 2794.5Q881.9 2799.8 890.7 2793.2T908.4 2789.7Q914.6 2795.3 920.8 2789.1T933.3 2786.3Q942.4 2792.6 951.5 2782.4T969.8 2776Q977.7 2781.9 985.7 2772.6T1001.6 2766.8Q1009.1 2772.9 1016.6 2762.9T1031.7 2756.5Q1033 2763.3 1034.3 2756.9T1037 2754.7" fill="none" stroke="#1d4e58" stroke-width="1.1" stroke-dasharray="3.2 1.3"/>
<path d="M335 2631.8C335.8 2631.6 338 2630.4 339.5 2630.6C341 2630.9 342.5 2631.8 344 2633.2C345.5 2634.6 347 2638.1 348.5 2639.1C350 2640.2 351.5 2639.1 353 2639.5C354.5 2639.9 356 2641.5 357.5 2641.6C359 2641.6 360.5 2640.3 362 2639.9C363.5 2639.5 365 2638.4 366.5 2639.2C368 2640 369.5 2643.3 371 2644.5C372.5 2645.8 374 2645.5 375.5 2646.6C377 2647.7 378.5 2650.1 380 2650.9C381.5 2651.8 383 2652 384.5 2651.6C386 2651.2 387.5 2648.6 389 2648.6C390.5 2648.5 392 2650.6 393.5 2651.2C395 2651.7 396.5 2651.2 398 2652.1C399.5 2652.9 401 2654.9 402.5 2656.3C404 2657.6 405.5 2659.9 407 2660.1C408.5 2660.4 410 2658 411.5 2657.8C413 2657.5 414.5 2658.7 416 2658.7C417.5 2658.6 419 2657.5 420.5 2657.6C422 2657.8 423.5 2658.3 425 2659.7C426.5 2661 428 2664.6 429.5 2665.6C431 2666.6 432.5 2665.6 434 2665.8C435.5 2666.1 437 2667.3 438.5 2667.1C440 2666.9 441.5 2665.5 443 2664.7C444.5 2663.9 446 2662.1 447.5 2662.4C449 2662.6 450.5 2665.6 452 2666.4C453.5 2667.3 455 2666.7 456.5 2667.3C458 2667.9 459.5 2669.5 461 2669.9C462.5 2670.3 464 2670.5 465.5 2669.8C467 2669.1 468.5 2666 470 2665.5C471.5 2665.1 473 2666.8 474.5 2667C476 2667.3 477.5 2666.6 479 2667.2C480.5 2667.7 482 2669.1 483.5 2670.1C485 2671.2 486.5 2673.5 488 2673.5C489.5 2673.5 491 2670.7 492.5 2670.2C494 2669.6 495.5 2670.4 497 2670.1C498.5 2669.8 500 2668.6 501.5 2668.4C503 2668.3 504.5 2668.2 506 2669.2C507.5 2670.2 509 2673.6 510.5 2674.4C512 2675.1 513.5 2673.7 515 2673.7C516.5 2673.7 518 2674.6 519.5 2674.4C521 2674.1 522.5 2673.2 524 2672.4C525.5 2671.7 527 2669.6 528.5 2669.9C530 2670.2 531.5 2673.2 533 2674.1C534.5 2675 536 2674.6 537.5 2675.2C539 2675.8 540.5 2677.1 542 2677.6C543.5 2678 545 2678.6 546.5 2677.9C548 2677.2 549.5 2674 551 2673.5C552.5 2673 554 2674.7 555.5 2675C557 2675.3 558.5 2675 560 2675.5C561.5 2676 563 2677.1 564.5 2678.2C566 2679.3 567.5 2681.8 569 2681.8C570.5 2681.9 572 2679.2 573.5 2678.6C575 2678 576.5 2678.6 578 2678.4C579.5 2678.1 581 2677.2 582.5 2677.1C584 2677 585.5 2676.7 587 2677.6C588.5 2678.6 590 2682.2 591.5 2683C593 2683.9 594.5 2682.6 596 2682.6C597.5 2682.6 599 2683.1 600.5 2682.9C602 2682.7 603.5 2682.1 605 2681.3C606.5 2680.6 608 2678.3 609.5 2678.6C611 2678.8 612.5 2681.8 614 2682.8C615.5 2683.7 617 2683.6 618.5 2684.1C620 2684.7 621.5 2685.7 623 2686.1C624.5 2686.6 626 2687.4 627.5 2686.7C629 2686.1 630.5 2682.8 632 2682.3C633.5 2681.8 635 2683.3 636.5 2683.6C638 2683.9 639.5 2683.7 641 2684C642.5 2684.4 644 2685.4 645.5 2685.8C647 2686.3 648.5 2686.8 650 2686.7C651.5 2686.6 653 2685.5 654.5 2685.2C656 2684.8 657.5 2684.8 659 2684.7C660.5 2684.5 662 2684.2 663.5 2684C665 2683.9 666.5 2683.5 668 2683.8C669.5 2684.1 671 2685.4 672.5 2685.6C674 2685.9 675.5 2685.3 677 2685.2C678.5 2685.1 680 2685.2 681.5 2685.1C683 2685 684.5 2684.8 686 2684.5C687.5 2684.2 689 2683.3 690.5 2683.3C692 2683.4 693.5 2684.5 695 2684.8C696.5 2685.2 698 2685.2 699.5 2685.4C701 2685.6 702.5 2685.6 704 2686C705.5 2686.3 707 2688.3 708.5 2687.7C710 2687.2 711.5 2683.5 713 2682.8C714.5 2682.1 716 2683.5 717.5 2683.6C719 2683.8 720.5 2683.7 722 2683.9C723.5 2684.1 725 2684.3 726.5 2684.9C728 2685.6 729.5 2688.2 731 2688C732.5 2687.8 734 2684.9 735.5 2683.9C737 2682.9 738.5 2682.7 740 2682.1C741.5 2681.6 743 2681 744.5 2680.6C746 2680.2 747.5 2679 749 2679.6C750.5 2680.2 752 2683.6 753.5 2684.2C755 2684.8 756.5 2683.5 758 2683.1C759.5 2682.7 761 2682.3 762.5 2681.8C764 2681.2 765.5 2680.9 767 2679.9C768.5 2678.9 770 2676 771.5 2675.8C773 2675.6 774.5 2678.2 776 2678.9C777.5 2679.6 779 2679.6 780.5 2679.8C782 2680 783.5 2680.1 785 2680.2C786.5 2680.2 788 2681.2 789.5 2680.3C791 2679.4 792.5 2675.7 794 2674.8C795.5 2673.9 797 2674.7 798.5 2674.8C800 2674.9 801.5 2675.1 803 2675.3C804.5 2675.5 806 2675.4 807.5 2676.1C809 2676.7 810.5 2679.4 812 2679.2C813.5 2679.1 815 2676.3 816.5 2675.2C818 2674.2 819.5 2673.7 821 2673.2C822.5 2672.7 824 2672.4 825.5 2672C827 2671.7 828.5 2670.3 830 2670.8C831.5 2671.4 833 2674.7 834.5 2675.4C836 2676 837.5 2674.9 839 2674.5C840.5 2674.1 842 2673.4 843.5 2672.9C845 2672.3 846.5 2672.3 848 2671.4C849.5 2670.4 851 2667.4 852.5 2667.3C854 2667.1 855.5 2669.5 857 2670.3C858.5 2671 860 2671.4 861.5 2671.6C863 2671.8 864.5 2671.6 866 2671.7C867.5 2671.8 869 2672.9 870.5 2672.1C872 2671.3 873.5 2667.6 875 2666.7C876.5 2665.8 878 2666.4 879.5 2666.5C881 2666.6 882.5 2667.2 884 2667.4C885.5 2667.7 887 2667.4 888.5 2668C890 2668.6 891.5 2671.4 893 2671.3C894.5 2671.3 896 2668.6 897.5 2667.6C899 2666.6 900.5 2665.8 902 2665.3C903.5 2664.8 905 2664.9 906.5 2664.5C908 2664.2 909.5 2662.7 911 2663.2C912.5 2663.7 914 2667.1 915.5 2667.8C917 2668.4 918.5 2667.8 920 2667.3C921.5 2666.7 923 2665.2 924.5 2664.4C926 2663.5 927.5 2663.4 929 2662.2C930.5 2661 932 2657.6 933.5 2657.1C935 2656.6 936.5 2658.5 938 2659C939.5 2659.4 941 2659.8 942.5 2659.8C944 2659.7 945.5 2658.9 947 2658.7C948.5 2658.5 950 2659.5 951.5 2658.4C953 2657.3 954.5 2653.5 956 2652.3C957.5 2651 959 2651 960.5 2650.8C962 2650.6 963.5 2651.2 965 2651.1C966.5 2651 968 2650.1 969.5 2650.3C971 2650.6 972.5 2653.1 974 2652.6C975.5 2652.2 977 2649.3 978.5 2647.8C980 2646.3 981.5 2644.7 983 2643.8C984.5 2642.8 986 2642.8 987.5 2642C989 2641.2 990.5 2639.1 992 2639.2C993.5 2639.3 995 2642.1 996.5 2642.4C998 2642.8 999.5 2642 1001 2641.2C1002.5 2640.5 1004 2638.8 1005.5 2637.9C1007 2637 1008.5 2637 1010 2635.8C1011.5 2634.5 1013 2631.1 1014.5 2630.5C1016 2629.8 1018.2 2631.7 1019 2631.9" fill="none" stroke="#10202c" stroke-width="3" stroke-linecap="round" stroke-linejoin="round"/>
<path d="M334.9 2638C334.5 2643.3 333.8 2659.3 332.4 2670C331.1 2680.6 328.4 2691.3 326.7 2701.9C324.9 2712.6 323.9 2723.2 322 2733.9C320.2 2744.5 318.1 2755.2 315.6 2765.8C313 2776.5 309.4 2787.1 306.6 2797.8C303.8 2808.4 301.1 2819.1 298.7 2829.8C296.3 2840.4 293.9 2851.1 292.2 2861.7C290.4 2872.4 289.3 2883 287.9 2893.7C286.5 2904.3 285.1 2915 283.7 2925.6C282.3 2936.3 280.9 2946.9 279.5 2957.6C278.1 2968.2 276.7 2978.9 275.3 2989.5C273.9 3000.2 272.3 3010.8 271.2 3021.5C270 3032.2 269.3 3042.8 268.4 3053.5C267.4 3064.1 266.5 3074.8 265.6 3085.4C264.6 3096.1 263.7 3106.7 262.7 3117.4C261.8 3128 260.9 3138.7 259.9 3149.3C259 3160 258 3170.6 257.1 3181.3C256.1 3191.9 255.1 3202.6 254.1 3213.2C253.2 3223.9 252.2 3234.6 251.2 3245.2C250.2 3255.9 249.2 3266.5 248.3 3277.2C247.4 3287.8 246.4 3298.5 245.6 3309.1C244.8 3319.8 244.2 3330.4 243.5 3341.1C242.8 3351.7 242 3362.4 241.4 3373C240.7 3383.7 239.7 3399.7 239.4 3405M1021.1 2638C1021.5 2643.3 1022.2 2659.3 1023.6 2670C1024.9 2680.6 1027.6 2691.3 1029.3 2701.9C1031.1 2712.6 1032.1 2723.2 1034 2733.9C1035.8 2744.5 1037.9 2755.2 1040.4 2765.8C1043 2776.5 1046.6 2787.1 1049.4 2797.8C1052.2 2808.4 1054.9 2819.1 1057.3 2829.8C1059.7 2840.4 1062.1 2851.1 1063.8 2861.7C1065.6 2872.4 1066.7 2883 1068.1 2893.7C1069.5 2904.3 1070.9 2915 1072.3 2925.6C1073.7 2936.3 1075.1 2946.9 1076.5 2957.6C1077.9 2968.2 1079.3 2978.9 1080.7 2989.5C1082.1 3000.2 1083.7 3010.8 1084.8 3021.5C1086 3032.2 1086.7 3042.8 1087.6 3053.5C1088.6 3064.1 1089.5 3074.8 1090.4 3085.4C1091.4 3096.1 1092.3 3106.7 1093.3 3117.4C1094.2 3128 1095.1 3138.7 1096.1 3149.3C1097 3160 1098 3170.6 1098.9 3181.3C1099.9 3191.9 1100.9 3202.6 1101.9 3213.2C1102.8 3223.9 1103.8 3234.6 1104.8 3245.2C1105.8 3255.9 1106.8 3266.5 1107.7 3277.2C1108.6 3287.8 1109.6 3298.5 1110.4 3309.1C1111.2 3319.8 1111.8 3330.4 1112.5 3341.1C1113.2 3351.7 1114 3362.4 1114.6 3373C1115.3 3383.7 1116.3 3399.7 1116.6 3405" fill="none" stroke="#10202c" stroke-width="1.4"/>
<path d="M325.8 2640C325.3 2645.3 324.3 2661.2 322.9 2671.8C321.5 2682.3 319.1 2692.9 317.4 2703.5C315.7 2714.1 314.7 2724.7 312.9 2735.2C311 2745.8 308.8 2756.4 306.2 2767C303.7 2777.6 300.1 2788.2 297.4 2798.8C294.6 2809.3 291.9 2819.9 289.5 2830.5C287.1 2841.1 284.9 2851.7 283.1 2862.2C281.3 2872.8 280.3 2883.4 278.9 2894C277.5 2904.6 276.1 2915.2 274.7 2925.8C273.3 2936.3 271.9 2946.9 270.5 2957.5C269.1 2968.1 267.7 2978.7 266.3 2989.2C265 2999.8 263.4 3010.4 262.2 3021C261.1 3031.6 260.4 3042.2 259.4 3052.8C258.5 3063.3 257.6 3073.9 256.6 3084.5C255.7 3095.1 254.8 3105.7 253.8 3116.2C252.9 3126.8 252 3137.4 251.1 3148C250.1 3158.6 249.2 3169.2 248.2 3179.8C247.2 3190.3 246.3 3200.9 245.3 3211.5C244.3 3222.1 243.4 3232.7 242.4 3243.2C241.4 3253.8 240.4 3264.4 239.5 3275C238.5 3285.6 237.6 3296.2 236.8 3306.8C235.9 3317.3 235.3 3327.9 234.6 3338.5C233.9 3349.1 233.2 3359.7 232.5 3370.2C231.8 3380.8 230.8 3396.7 230.4 3402M330.3 2640C329.8 2645.3 328.8 2661.2 327.4 2671.8C326 2682.4 323.6 2693 321.9 2703.6C320.2 2714.2 319.2 2724.8 317.3 2735.4C315.5 2746 313.3 2756.6 310.7 2767.2C308.1 2777.8 304.6 2788.4 301.8 2799C299 2809.6 296.3 2820.2 293.9 2830.8C291.6 2841.3 289.3 2851.9 287.5 2862.5C285.8 2873.1 284.7 2883.7 283.3 2894.3C282 2904.9 280.6 2915.5 279.2 2926.1C277.8 2936.7 276.4 2947.3 275 2957.9C273.6 2968.5 272.2 2979.1 270.8 2989.7C269.4 3000.3 267.8 3010.9 266.7 3021.5C265.5 3032.1 264.8 3042.7 263.9 3053.3C262.9 3063.9 262 3074.5 261.1 3085.1C260.2 3095.7 259.2 3106.3 258.3 3116.9C257.4 3127.5 256.4 3138.1 255.5 3148.7C254.6 3159.3 253.6 3169.9 252.6 3180.5C251.7 3191.1 250.7 3201.7 249.7 3212.2C248.8 3222.8 247.8 3233.4 246.8 3244C245.8 3254.6 244.8 3265.2 243.9 3275.8C243 3286.4 242 3297 241.2 3307.6C240.4 3318.2 239.8 3328.8 239.1 3339.4C238.4 3350 237.7 3360.6 237 3371.2C236.3 3381.8 235.2 3397.7 234.9 3403M307.5 2812C307.1 2813.9 305.6 2819.8 304.7 2823.7C303.7 2827.6 302.8 2831.4 301.8 2835.3C300.9 2839.2 299.7 2843.1 298.9 2847C298.1 2850.9 297.6 2854.8 297.1 2858.7C296.5 2862.6 296 2866.4 295.5 2870.3C295 2874.2 294.5 2878.1 294 2882C293.5 2885.9 292.9 2889.8 292.4 2893.7C291.9 2897.6 291.4 2901.4 290.9 2905.3C290.4 2909.2 289.9 2913.1 289.4 2917C288.8 2920.9 288.3 2924.8 287.8 2928.7C287.3 2932.6 286.8 2936.4 286.3 2940.3C285.8 2944.2 285.3 2948.1 284.8 2952C284.2 2955.9 283.7 2959.8 283.2 2963.7C282.7 2967.6 282.2 2971.4 281.7 2975.3C281.2 2979.2 280.7 2983.1 280.1 2987C279.6 2990.9 279.1 2994.8 278.6 2998.7C278.1 3002.6 277.6 3006.4 277.1 3010.3C276.6 3014.2 276 3018.1 275.6 3022C275.2 3025.9 274.9 3029.8 274.6 3033.7C274.3 3037.6 273.9 3041.4 273.6 3045.3C273.2 3049.2 272.9 3053.1 272.5 3057C272.2 3060.9 271.9 3064.8 271.5 3068.7C271.2 3072.6 270.8 3076.4 270.5 3080.3C270.2 3084.2 269.6 3090.1 269.5 3092M321 2810C320.6 2812 319.1 2817.9 318.1 2821.9C317.1 2825.8 316.2 2829.8 315.2 2833.8C314.2 2837.7 313.1 2841.7 312.3 2845.6C311.4 2849.6 310.8 2853.5 310.2 2857.5C309.6 2861.5 309.2 2865.4 308.6 2869.4C308.1 2873.3 307.6 2877.3 307.1 2881.2C306.6 2885.2 306 2889.2 305.5 2893.1C305 2897.1 304.5 2901 303.9 2905C303.4 2909 302.9 2912.9 302.4 2916.9C301.9 2920.8 301.3 2924.8 300.8 2928.8C300.3 2932.7 299.8 2936.7 299.3 2940.6C298.7 2944.6 298.2 2948.5 297.7 2952.5C297.2 2956.5 296.6 2960.4 296.1 2964.4C295.6 2968.3 295.1 2972.3 294.6 2976.2C294 2980.2 293.5 2984.2 293 2988.1C292.5 2992.1 292 2996 291.4 3000C290.9 3004 290.4 3007.9 289.9 3011.9C289.4 3015.8 288.9 3019.8 288.5 3023.8C288.1 3027.7 287.8 3031.7 287.4 3035.6C287.1 3039.6 286.7 3043.5 286.4 3047.5C286 3051.5 285.7 3055.4 285.3 3059.4C285 3063.3 284.6 3067.3 284.3 3071.2C283.9 3075.2 283.6 3079.2 283.3 3083.1C282.9 3087.1 282.4 3093 282.2 3095M258.9 3350C258.9 3350.4 258.8 3351.7 258.7 3352.6C258.7 3353.4 258.6 3354.3 258.5 3355.2C258.5 3356 258.4 3356.9 258.4 3357.8C258.3 3358.6 258.3 3359.5 258.2 3360.3C258.1 3361.2 258.1 3362.1 258 3362.9C258 3363.8 257.9 3364.6 257.9 3365.5C257.8 3366.4 257.7 3367.2 257.7 3368.1C257.6 3368.9 257.6 3369.8 257.5 3370.7C257.5 3371.5 257.4 3372.4 257.3 3373.2C257.3 3374.1 257.2 3375 257.2 3375.8C257.1 3376.7 257.1 3377.6 257 3378.4C256.9 3379.3 256.9 3380.1 256.8 3381C256.8 3381.9 256.7 3382.7 256.7 3383.6C256.6 3384.4 256.5 3385.3 256.5 3386.2C256.4 3387 256.4 3387.9 256.3 3388.8C256.3 3389.6 256.2 3390.5 256.1 3391.3C256.1 3392.2 256 3393.1 256 3393.9C255.9 3394.8 255.9 3395.6 255.8 3396.5C255.7 3397.4 255.7 3398.2 255.6 3399.1C255.6 3399.9 255.5 3400.8 255.5 3401.7C255.4 3402.5 255.4 3403.4 255.4 3404.2C255.4 3405.1 255.4 3406 255.4 3406.8C255.4 3407.7 255.4 3408.6 255.4 3409.4C255.4 3410.3 255.4 3411.6 255.4 3412M1030.2 2640C1030.7 2645.3 1031.7 2661.2 1033.1 2671.8C1034.5 2682.3 1036.9 2692.9 1038.6 2703.5C1040.3 2714.1 1041.3 2724.7 1043.1 2735.2C1045 2745.8 1047.2 2756.4 1049.8 2767C1052.3 2777.6 1055.9 2788.2 1058.7 2798.8C1061.4 2809.3 1064.1 2819.9 1066.5 2830.5C1068.9 2841.1 1071.1 2851.7 1072.9 2862.2C1074.7 2872.8 1075.7 2883.4 1077.1 2894C1078.5 2904.6 1079.9 2915.2 1081.3 2925.8C1082.7 2936.3 1084.1 2946.9 1085.5 2957.5C1086.9 2968.1 1088.3 2978.7 1089.7 2989.2C1091 2999.8 1092.6 3010.4 1093.8 3021C1094.9 3031.6 1095.6 3042.2 1096.6 3052.8C1097.5 3063.3 1098.4 3073.9 1099.4 3084.5C1100.3 3095.1 1101.2 3105.7 1102.2 3116.2C1103.1 3126.8 1104 3137.4 1104.9 3148C1105.9 3158.6 1106.8 3169.2 1107.8 3179.8C1108.8 3190.3 1109.7 3200.9 1110.7 3211.5C1111.7 3222.1 1112.6 3232.7 1113.6 3243.2C1114.6 3253.8 1115.6 3264.4 1116.5 3275C1117.5 3285.6 1118.4 3296.2 1119.2 3306.8C1120.1 3317.3 1120.7 3327.9 1121.4 3338.5C1122.1 3349.1 1122.8 3359.7 1123.5 3370.2C1124.2 3380.8 1125.2 3396.7 1125.6 3402M1025.7 2640C1026.2 2645.3 1027.2 2661.2 1028.6 2671.8C1030 2682.4 1032.4 2693 1034.1 2703.6C1035.8 2714.2 1036.8 2724.8 1038.7 2735.4C1040.5 2746 1042.7 2756.6 1045.3 2767.2C1047.9 2777.8 1051.4 2788.4 1054.2 2799C1057 2809.6 1059.7 2820.2 1062.1 2830.8C1064.4 2841.3 1066.7 2851.9 1068.5 2862.5C1070.2 2873.1 1071.3 2883.7 1072.7 2894.3C1074 2904.9 1075.4 2915.5 1076.8 2926.1C1078.2 2936.7 1079.6 2947.3 1081 2957.9C1082.4 2968.5 1083.8 2979.1 1085.2 2989.7C1086.6 3000.3 1088.2 3010.9 1089.3 3021.5C1090.5 3032.1 1091.2 3042.7 1092.1 3053.3C1093.1 3063.9 1094 3074.5 1094.9 3085.1C1095.8 3095.7 1096.8 3106.3 1097.7 3116.9C1098.6 3127.5 1099.6 3138.1 1100.5 3148.7C1101.4 3159.3 1102.4 3169.9 1103.4 3180.5C1104.3 3191.1 1105.3 3201.7 1106.3 3212.2C1107.2 3222.8 1108.2 3233.4 1109.2 3244C1110.2 3254.6 1111.2 3265.2 1112.1 3275.8C1113 3286.4 1114 3297 1114.8 3307.6C1115.6 3318.2 1116.2 3328.8 1116.9 3339.4C1117.6 3350 1118.3 3360.6 1119 3371.2C1119.7 3381.8 1120.8 3397.7 1121.1 3403M1048.5 2812C1048.9 2813.9 1050.4 2819.8 1051.3 2823.7C1052.3 2827.6 1053.2 2831.4 1054.2 2835.3C1055.1 2839.2 1056.3 2843.1 1057.1 2847C1057.9 2850.9 1058.4 2854.8 1058.9 2858.7C1059.5 2862.6 1060 2866.4 1060.5 2870.3C1061 2874.2 1061.5 2878.1 1062 2882C1062.5 2885.9 1063.1 2889.8 1063.6 2893.7C1064.1 2897.6 1064.6 2901.4 1065.1 2905.3C1065.6 2909.2 1066.1 2913.1 1066.6 2917C1067.2 2920.9 1067.7 2924.8 1068.2 2928.7C1068.7 2932.6 1069.2 2936.4 1069.7 2940.3C1070.2 2944.2 1070.7 2948.1 1071.2 2952C1071.8 2955.9 1072.3 2959.8 1072.8 2963.7C1073.3 2967.6 1073.8 2971.4 1074.3 2975.3C1074.8 2979.2 1075.3 2983.1 1075.9 2987C1076.4 2990.9 1076.9 2994.8 1077.4 2998.7C1077.9 3002.6 1078.4 3006.4 1078.9 3010.3C1079.4 3014.2 1080 3018.1 1080.4 3022C1080.8 3025.9 1081.1 3029.8 1081.4 3033.7C1081.7 3037.6 1082.1 3041.4 1082.4 3045.3C1082.8 3049.2 1083.1 3053.1 1083.5 3057C1083.8 3060.9 1084.1 3064.8 1084.5 3068.7C1084.8 3072.6 1085.2 3076.4 1085.5 3080.3C1085.8 3084.2 1086.4 3090.1 1086.5 3092M1035 2810C1035.4 2812 1036.9 2817.9 1037.9 2821.9C1038.9 2825.8 1039.8 2829.8 1040.8 2833.8C1041.8 2837.7 1042.9 2841.7 1043.7 2845.6C1044.6 2849.6 1045.2 2853.5 1045.8 2857.5C1046.4 2861.5 1046.8 2865.4 1047.4 2869.4C1047.9 2873.3 1048.4 2877.3 1048.9 2881.2C1049.4 2885.2 1050 2889.2 1050.5 2893.1C1051 2897.1 1051.5 2901 1052.1 2905C1052.6 2909 1053.1 2912.9 1053.6 2916.9C1054.1 2920.8 1054.7 2924.8 1055.2 2928.8C1055.7 2932.7 1056.2 2936.7 1056.7 2940.6C1057.3 2944.6 1057.8 2948.5 1058.3 2952.5C1058.8 2956.5 1059.4 2960.4 1059.9 2964.4C1060.4 2968.3 1060.9 2972.3 1061.4 2976.2C1062 2980.2 1062.5 2984.2 1063 2988.1C1063.5 2992.1 1064 2996 1064.6 3000C1065.1 3004 1065.6 3007.9 1066.1 3011.9C1066.6 3015.8 1067.1 3019.8 1067.5 3023.8C1067.9 3027.7 1068.2 3031.7 1068.6 3035.6C1068.9 3039.6 1069.3 3043.5 1069.6 3047.5C1070 3051.5 1070.3 3055.4 1070.7 3059.4C1071 3063.3 1071.4 3067.3 1071.7 3071.2C1072.1 3075.2 1072.4 3079.2 1072.7 3083.1C1073.1 3087.1 1073.6 3093 1073.8 3095M1097.1 3350C1097.1 3350.4 1097.2 3351.7 1097.3 3352.6C1097.3 3353.4 1097.4 3354.3 1097.5 3355.2C1097.5 3356 1097.6 3356.9 1097.6 3357.8C1097.7 3358.6 1097.7 3359.5 1097.8 3360.3C1097.9 3361.2 1097.9 3362.1 1098 3362.9C1098 3363.8 1098.1 3364.6 1098.1 3365.5C1098.2 3366.4 1098.3 3367.2 1098.3 3368.1C1098.4 3368.9 1098.4 3369.8 1098.5 3370.7C1098.5 3371.5 1098.6 3372.4 1098.7 3373.2C1098.7 3374.1 1098.8 3375 1098.8 3375.8C1098.9 3376.7 1098.9 3377.6 1099 3378.4C1099.1 3379.3 1099.1 3380.1 1099.2 3381C1099.2 3381.9 1099.3 3382.7 1099.3 3383.6C1099.4 3384.4 1099.5 3385.3 1099.5 3386.2C1099.6 3387 1099.6 3387.9 1099.7 3388.8C1099.7 3389.6 1099.8 3390.5 1099.9 3391.3C1099.9 3392.2 1100 3393.1 1100 3393.9C1100.1 3394.8 1100.1 3395.6 1100.2 3396.5C1100.3 3397.4 1100.3 3398.2 1100.4 3399.1C1100.4 3399.9 1100.5 3400.8 1100.5 3401.7C1100.6 3402.5 1100.6 3403.4 1100.6 3404.2C1100.6 3405.1 1100.6 3406 1100.6 3406.8C1100.6 3407.7 1100.6 3408.6 1100.6 3409.4C1100.6 3410.3 1100.6 3411.6 1100.6 3412" fill="none" stroke="#23606b" stroke-width="0.9" stroke-dasharray="3 1.5"/>
<path d="M279 2861l12 2M278 2869l12 2M1077 2861l-12 2M1078 2869l-12 2" fill="none" stroke="#10202c" stroke-width="1"/>
<path d="M678 2687L677.8 3118" fill="none" stroke="#10202c" stroke-width="2.2"/>
<path d="M682 2690V3112M686 2690V3110M690.3 2692V3100" fill="none" stroke="#23606b" stroke-width="0.9" stroke-dasharray="3 1.5"/>
<path d="M230.5 3364.4C242.1 3366.2 276.8 3372 300 3375C323.2 3378 339.5 3380.4 369.5 3382.2C399.5 3384 451.6 3385.4 480 3385.6C508.4 3385.8 520 3384.6 540 3383.6C560 3382.6 580.5 3381.1 600 3379.5C619.5 3377.9 647.5 3375.1 657 3374.2M229 3377C240.8 3378.8 276.6 3385 300 3388C323.4 3391 339.5 3393.3 369.5 3395C399.5 3396.7 451.6 3398.1 480 3398.3C508.4 3398.5 520 3397.4 540 3396.3C560 3395.2 580.7 3393.7 600 3392C619.3 3390.3 646.7 3387.3 656 3386.4M698 3378C708.3 3379 739.7 3382.2 760 3384C780.3 3385.8 796.7 3387.8 820 3388.6C843.3 3389.4 870 3390.3 900 3389C930 3387.7 964.7 3384.7 1000 3381C1035.3 3377.3 1090.9 3369.8 1111.9 3367C1132.9 3364.2 1123.7 3364.5 1126 3364M699 3391.2C709.2 3392.2 739.8 3395.4 760 3397C780.2 3398.6 796.7 3400.1 820 3401C843.3 3401.9 870 3403.7 900 3402.5C930 3401.3 964.5 3397.8 1000 3394C1035.5 3390.2 1091.5 3382.6 1112.7 3379.7C1133.9 3376.8 1124.6 3377 1127 3376.5" fill="none" stroke="#23606b" stroke-width="0.9" stroke-dasharray="3 1.5"/>
<path d="M309 2806L311.6 2808.5L314.2 2803.5L316.8 2808.5L319.4 2803.5L322 2808.5M266.5 3095L269.2 3097.5L271.9 3092.5L274.6 3097.5L277.3 3092.5L280 3097.5M243 3348.3L246.1 3350.8L249.2 3345.8L252.3 3350.8L255.4 3345.8L258.5 3350.8M1034 2803L1036.6 2805.5L1039.2 2800.5L1041.8 2805.5L1044.4 2800.5L1047 2805.5M1075.5 3089.7L1078.4 3092.2L1081.3 3087.2L1084.2 3092.2L1087.1 3087.2L1090 3092.2M1096.6 3343.2L1099.3 3345.7L1102 3340.7L1104.7 3345.7L1107.4 3340.7L1110.2 3345.7L1112.9 3340.7L1115.6 3345.7L1118.3 3340.7L1121 3345.7L1123.7 3340.7" fill="none" stroke="#10202c" stroke-width="1.1" stroke-linejoin="miter"/>
<path d="M551.4 3134.7Q630 3132 677.6 3118.3Q722 3105 752.2 3089.3M618 3165.3Q632 3140 677.6 3118.6Q716 3101 752.2 3089.3" fill="none" stroke="#10202c" stroke-width="1.4" stroke-linecap="round"/>
<ellipse cx="671.8" cy="2534.5" rx="341.3" ry="40" fill="none" stroke="#e7edf8" stroke-width="5.2"/>
<path d="M265.5 2966.8C288 2994 480 3012.5 676 3012.5S1065 2993 1087.5 2965.4" fill="none" stroke="#e3f1f5" stroke-width="5.2" stroke-linecap="round"/>
<path d="M272.2 2625.4C269.9 2627.4 263.1 2630.2 258.6 2637.3C254.1 2644.4 249.2 2655.7 245 2667.8C240.8 2680 237.1 2694.8 233.2 2710.2C229.3 2725.6 226 2739.2 221.4 2760C216.8 2780.8 210.5 2810 205.5 2835C200.5 2860 195.6 2884.5 191.2 2910C186.8 2935.5 182.6 2961.3 179 2988C175.4 3014.7 172.4 3040.3 169.5 3070C166.6 3099.7 163.6 3137.7 161.5 3166C159.4 3194.3 157.9 3219.3 157 3240C156.1 3260.7 156.1 3272 156.3 3290C156.6 3308 157.2 3331.3 158.5 3348C159.8 3364.7 161.8 3378.2 164.4 3390C167 3401.8 172.6 3414.2 174.2 3419" fill="none" stroke="#e7edf8" stroke-width="5.6" stroke-linecap="round"/>
<circle cx="848.1" cy="2563.2" r="47.6" fill="#e2e8f4"/>
<text x="846.1" y="2584.2" text-anchor="middle" font-family="NanumGothic, Liberation Sans, sans-serif" font-size="62" fill="#24407f" stroke="#24407f" stroke-width="4.5" stroke-linejoin="miter">1</text>
<circle cx="896.9" cy="2999.5" r="47.6" fill="#e2e8f4"/>
<text x="896.4" y="3019.8" text-anchor="middle" font-family="Liberation Sans, sans-serif" font-size="65" fill="#24407f" stroke="#24407f" stroke-width="2.5" stroke-linejoin="miter">2</text>
<circle cx="175.8" cy="2987.8" r="47.6" fill="#e2e8f4"/>
<text x="173.8" y="3010.5" text-anchor="middle" font-family="Liberation Sans, sans-serif" font-size="65" fill="#24407f" stroke="#24407f" stroke-width="2.5" stroke-linejoin="miter">3</text>
<circle cx="1485.7" cy="2674.5" r="47.9" fill="#fff"/>
<text x="1483.7" y="2695.8" text-anchor="middle" font-family="NanumGothic, Liberation Sans, sans-serif" font-size="63" fill="#24407f" stroke="#24407f" stroke-width="4" stroke-linejoin="miter">1</text>
<circle cx="1485.4" cy="2911.1" r="47.9" fill="#fff"/>
<text x="1485.4" y="2932.4" text-anchor="middle" font-family="Liberation Sans, sans-serif" font-size="67" fill="#24407f" stroke="#24407f" stroke-width="2.6" stroke-linejoin="miter">2</text>
<circle cx="1485.4" cy="3128.7" r="47.9" fill="#fff"/>
<text x="1485.4" y="3150.0" text-anchor="middle" font-family="Liberation Sans, sans-serif" font-size="67" fill="#24407f" stroke="#24407f" stroke-width="2.6" stroke-linejoin="miter">3</text>
</svg>

<div class="abs lh" style="left:1595.5px;top:2641.4px;transform:scaleX(1.125)">WAIST</div>
<div class="abs lt" style="left:1590.8px;top:2737px">Narrowest point of waist</div>
<div class="abs lh" style="left:1592.5px;top:2872.6px;transform:scaleX(1.155)">HIP</div>
<div class="abs lt" style="left:1590.8px;top:2967.8px">The widest part of your hips</div>
<div class="abs lh" style="left:1593px;top:3089.4px;transform:scaleX(1.122)">OUTSIDE SEAM</div>
<div class="abs lt" style="left:1590.8px;top:3185.4px">The top of the waistband to</div>
<div class="abs lt" style="left:1590.8px;top:3277.3px">the bottom of the hem</div>
</body>
</html>
